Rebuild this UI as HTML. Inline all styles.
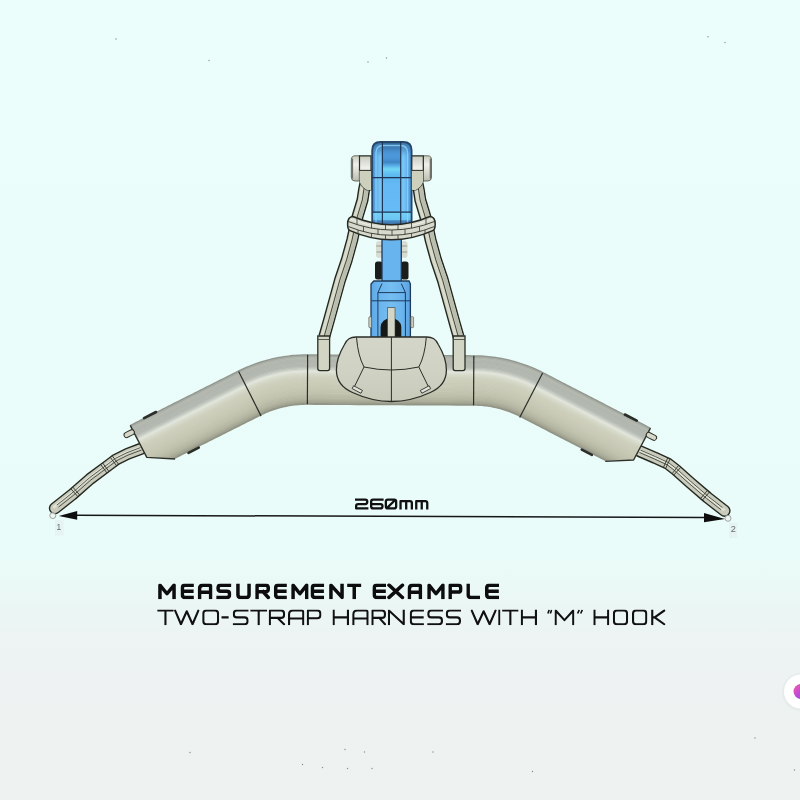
<!DOCTYPE html><html><head><meta charset="utf-8"><style>
html,body{margin:0;padding:0;width:800px;height:800px;overflow:hidden;}
body{background:#eef6f5;}
svg{display:block;filter:blur(0.35px);}
</style></head><body>
<svg width="800" height="800" viewBox="0 0 800 800">
<defs>
<linearGradient id="bg" x1="0" y1="0" x2="0" y2="800" gradientUnits="userSpaceOnUse">
<stop offset="0" stop-color="rgb(236,254,252)"/><stop offset="0.3" stop-color="rgb(235,253,251)"/><stop offset="0.675" stop-color="rgb(233,252,249)"/><stop offset="0.72" stop-color="rgb(234,250,247)"/><stop offset="0.7625" stop-color="rgb(235,246,244)"/><stop offset="0.8125" stop-color="rgb(237,243,242)"/><stop offset="1" stop-color="rgb(238,242,241)"/>
</linearGradient>
<linearGradient id="blueV" x1="0" y1="0" x2="1" y2="0">
<stop offset="0" stop-color="#4a8cc8"/><stop offset="0.1" stop-color="#60aeec"/><stop offset="0.2" stop-color="#78c6f6"/><stop offset="0.5" stop-color="#66bcf6"/><stop offset="0.8" stop-color="#78c6f6"/><stop offset="0.9" stop-color="#60aeec"/><stop offset="1" stop-color="#4a8cc8"/>
</linearGradient>
<linearGradient id="blueTop" x1="0" y1="0" x2="0" y2="1">
<stop offset="0" stop-color="#2c5a88" stop-opacity="0.85"/><stop offset="0.6" stop-color="#3b78b5" stop-opacity="0.45"/><stop offset="1" stop-color="#4a90d0" stop-opacity="0"/>
</linearGradient>
<linearGradient id="blueBot" x1="0" y1="0" x2="0" y2="1">
<stop offset="0" stop-color="#74d2f6" stop-opacity="0.9"/><stop offset="0.5" stop-color="#6cc8f3" stop-opacity="0.8"/><stop offset="0.6" stop-color="#3f78b2" stop-opacity="0.8"/><stop offset="1" stop-color="#34689f" stop-opacity="0.9"/>
</linearGradient>
<linearGradient id="blueB" x1="0" y1="0" x2="1" y2="0">
<stop offset="0" stop-color="#5ea8e6"/><stop offset="0.2" stop-color="#6ab4ee"/><stop offset="0.5" stop-color="#74bef2"/><stop offset="0.8" stop-color="#6ab4ee"/><stop offset="1" stop-color="#5aa2e0"/>
</linearGradient>
<linearGradient id="domeG" x1="0" y1="0" x2="0" y2="1">
<stop offset="0" stop-color="#d3d6c8"/><stop offset="0.5" stop-color="#d0d3c4"/><stop offset="1" stop-color="#c8cbba"/>
</linearGradient>
<linearGradient id="earG" x1="0" y1="0" x2="0" y2="1">
<stop offset="0" stop-color="#c9ccbf"/><stop offset="0.35" stop-color="#eef0ea"/><stop offset="0.6" stop-color="#dcdfd4"/><stop offset="1" stop-color="#b9bcae"/>
</linearGradient>
<linearGradient id="blueBand" x1="0" y1="141" x2="0" y2="226" gradientUnits="userSpaceOnUse">
<stop offset="0" stop-color="#3d74ad"/><stop offset="0.12" stop-color="#4f9ee0"/><stop offset="0.2" stop-color="#4a95d8"/><stop offset="0.25" stop-color="#3f85c5"/><stop offset="0.29" stop-color="#5aaee8"/><stop offset="0.33" stop-color="#72d8f6"/><stop offset="0.38" stop-color="#62c0f2"/><stop offset="0.43" stop-color="#5ab4ee"/><stop offset="0.5" stop-color="#64b8f4"/><stop offset="0.84" stop-color="#66bcf6"/><stop offset="1" stop-color="#66bcf6"/>
</linearGradient>
<linearGradient id="blueBand2" x1="0" y1="0" x2="0" y2="1">
<stop offset="0" stop-color="#4a8fd0"/><stop offset="0.3" stop-color="#5eaeea"/><stop offset="0.5" stop-color="#58a6e6"/><stop offset="1" stop-color="#55a2e2"/>
</linearGradient>
<linearGradient id="btnG" x1="0" y1="0" x2="1" y2="1">
<stop offset="0" stop-color="#f35fa0"/><stop offset="0.5" stop-color="#c04ad8"/><stop offset="1" stop-color="#7a52e6"/>
</linearGradient>
</defs>
<rect width="800" height="800" fill="url(#bg)"/>

<path d="M141.00,448.80 L127.50,453.90 L116.00,459.60 L109.50,464.50 L90.00,479.00 L72.00,494.80 L54.90,508.30" stroke="#262920" stroke-width="12.2" fill="none" stroke-linecap="round" stroke-linejoin="round"/>
<path d="M141.00,448.80 L127.50,453.90 L116.00,459.60 L109.50,464.50 L90.00,479.00 L72.00,494.80 L54.90,508.30" stroke="#c9ccbc" stroke-width="9.4" fill="none" stroke-linecap="round" stroke-linejoin="round"/>
<path d="M141.00,448.80 L127.50,453.90 L116.00,459.60 L109.50,464.50 L90.00,479.00 L72.00,494.80 L54.90,508.30" stroke="#e2e4d8" stroke-width="2.5" fill="none" stroke-linecap="round" stroke-linejoin="round" transform="translate(-0.8,-1.2)"/>
<path d="M141.46,450.02 L128.02,455.09 L116.66,460.72 L110.28,465.54 L90.82,480.01 L72.84,495.80 L58.45,507.15" stroke="#3a3d34" stroke-width="0.85" fill="none" stroke-linejoin="round"/>
<path d="M140.54,447.58 L126.98,452.71 L115.34,458.48 L108.72,463.46 L89.18,477.99 L71.16,493.80 L56.84,505.11" stroke="#3a3d34" stroke-width="0.85" fill="none" stroke-linejoin="round"/>
<path d="M640.00,451.30 L655.00,457.80 L668.00,463.80 L676.00,470.00 L690.00,482.50 L707.50,497.50 L724.50,510.80" stroke="#262920" stroke-width="12.2" fill="none" stroke-linecap="round" stroke-linejoin="round"/>
<path d="M640.00,451.30 L655.00,457.80 L668.00,463.80 L676.00,470.00 L690.00,482.50 L707.50,497.50 L724.50,510.80" stroke="#c9ccbc" stroke-width="9.4" fill="none" stroke-linecap="round" stroke-linejoin="round"/>
<path d="M640.00,451.30 L655.00,457.80 L668.00,463.80 L676.00,470.00 L690.00,482.50 L707.50,497.50 L724.50,510.80" stroke="#e2e4d8" stroke-width="2.5" fill="none" stroke-linecap="round" stroke-linejoin="round" transform="translate(-0.8,-1.2)"/>
<path d="M640.52,450.11 L655.53,456.61 L668.65,462.68 L676.84,469.01 L690.85,481.52 L708.33,496.50 L722.54,507.62" stroke="#3a3d34" stroke-width="0.85" fill="none" stroke-linejoin="round"/>
<path d="M639.48,452.49 L654.47,458.99 L667.35,464.92 L675.16,470.99 L689.15,483.48 L706.67,498.50 L720.94,509.67" stroke="#3a3d34" stroke-width="0.85" fill="none" stroke-linejoin="round"/>
<line x1="112.22" y1="455.81" x2="118.60" y2="464.27" stroke="#30332b" stroke-width="0.9"/>
<line x1="110.23" y1="457.31" x2="116.61" y2="465.78" stroke="#30332b" stroke-width="0.9"/>
<line x1="102.65" y1="462.99" x2="108.98" y2="471.49" stroke="#30332b" stroke-width="0.9"/>
<line x1="100.65" y1="464.48" x2="106.97" y2="472.99" stroke="#30332b" stroke-width="0.9"/>
<line x1="72.76" y1="487.08" x2="79.75" y2="495.05" stroke="#30332b" stroke-width="0.9"/>
<line x1="70.88" y1="488.73" x2="77.87" y2="496.70" stroke="#30332b" stroke-width="0.9"/>
<line x1="663.36" y1="467.50" x2="667.80" y2="457.87" stroke="#30332b" stroke-width="0.9"/>
<line x1="665.63" y1="468.54" x2="670.07" y2="458.92" stroke="#30332b" stroke-width="0.9"/>
<line x1="672.13" y1="473.71" x2="678.62" y2="465.33" stroke="#30332b" stroke-width="0.9"/>
<line x1="673.75" y1="475.09" x2="680.81" y2="467.19" stroke="#30332b" stroke-width="0.9"/>
<line x1="700.56" y1="498.53" x2="707.45" y2="490.48" stroke="#30332b" stroke-width="0.9"/>
<line x1="702.45" y1="500.15" x2="709.35" y2="492.11" stroke="#30332b" stroke-width="0.9"/>
<g id="obj" transform="rotate(0.3 390.6 380)">
<clipPath id="tubeclip"><path clip-rule="evenodd" d="M0,0 H800 V800 H0 Z M146.90,458.40 L146.20,483.25 L183.50,464.20 L176.00,460.00 Z M634.30,458.40 L635.00,483.25 L597.70,464.20 L605.20,460.00 Z"/></clipPath>
<g clip-path="url(#tubeclip)">
<path d="M130.78,426.98 L133.47,425.61 L136.16,424.24 L138.84,422.87 L141.53,421.50 L144.21,420.13 L146.90,418.76 L149.59,417.40 L152.27,416.03 L154.96,414.66 L157.64,413.29 L160.33,411.92 L163.02,410.55 L165.70,409.18 L168.39,407.82 L171.07,406.45 L173.76,405.08 L176.45,403.71 L179.13,402.34 L181.82,400.97 L184.50,399.60 L187.19,398.24 L189.88,396.87 L192.56,395.50 L195.25,394.13 L197.93,392.76 L200.62,391.39 L203.31,390.02 L205.99,388.66 L208.68,387.29 L211.36,385.92 L214.05,384.55 L216.74,383.18 L219.42,381.81 L222.11,380.44 L224.79,379.08 L227.48,377.71 L230.17,376.34 L232.85,374.97 L235.54,373.60 L238.29,372.20 L240.36,371.16 L242.52,370.13 L244.70,369.12 L246.88,368.16 L249.09,367.22 L251.31,366.33 L253.54,365.46 L255.78,364.63 L258.04,363.84 L260.31,363.08 L262.60,362.36 L264.89,361.68 L267.19,361.03 L269.51,360.41 L271.83,359.84 L274.16,359.29 L276.50,358.79 L278.85,358.32 L281.20,357.89 L283.56,357.50 L285.93,357.15 L288.30,356.83 L290.68,356.55 L293.06,356.30 L295.44,356.09 L297.83,355.93 L300.22,355.79 L302.61,355.70 L305.01,355.64 L307.36,355.63 L315.72,355.62 L324.04,355.62 L332.36,355.62 L340.68,355.62 L349.00,355.62 L357.32,355.62 L365.64,355.62 L373.96,355.62 L382.28,355.62 L390.60,355.62 L398.92,355.62 L407.24,355.62 L415.56,355.62 L423.88,355.62 L432.20,355.62 L440.52,355.62 L448.84,355.62 L457.16,355.62 L465.48,355.62 L473.84,355.63 L476.19,355.64 L478.59,355.70 L480.98,355.79 L483.37,355.93 L485.76,356.09 L488.14,356.30 L490.52,356.55 L492.90,356.83 L495.27,357.15 L497.64,357.50 L500.00,357.89 L502.35,358.32 L504.70,358.79 L507.04,359.29 L509.37,359.84 L511.69,360.41 L514.01,361.03 L516.31,361.68 L518.60,362.36 L520.89,363.08 L523.16,363.84 L525.42,364.63 L527.66,365.46 L529.89,366.33 L532.11,367.22 L534.32,368.16 L536.50,369.12 L538.68,370.13 L540.84,371.16 L542.91,372.20 L545.66,373.60 L548.35,374.97 L551.03,376.34 L553.72,377.71 L556.41,379.08 L559.09,380.44 L561.78,381.81 L564.46,383.18 L567.15,384.55 L569.84,385.92 L572.52,387.29 L575.21,388.66 L577.89,390.02 L580.58,391.39 L583.27,392.76 L585.95,394.13 L588.64,395.50 L591.32,396.87 L594.01,398.24 L596.70,399.60 L599.38,400.97 L602.07,402.34 L604.75,403.71 L607.44,405.08 L610.13,406.45 L612.81,407.82 L615.50,409.18 L618.18,410.55 L620.87,411.92 L623.56,413.29 L626.24,414.66 L628.93,416.03 L631.61,417.40 L634.30,418.76 L636.99,420.13 L639.67,421.50 L642.36,422.87 L645.04,424.24 L647.73,425.61 L650.42,426.98" stroke="#91968e" stroke-width="1.85" fill="none"/>
<path d="M131.35,428.09 L134.04,426.72 L136.72,425.35 L139.41,423.98 L142.10,422.62 L144.78,421.25 L147.47,419.88 L150.15,418.51 L152.84,417.14 L155.53,415.77 L158.21,414.40 L160.90,413.04 L163.58,411.67 L166.27,410.30 L168.96,408.93 L171.64,407.56 L174.33,406.19 L177.01,404.82 L179.70,403.46 L182.39,402.09 L185.07,400.72 L187.76,399.35 L190.44,397.98 L193.13,396.61 L195.81,395.24 L198.50,393.88 L201.19,392.51 L203.87,391.14 L206.56,389.77 L209.24,388.40 L211.93,387.03 L214.62,385.66 L217.30,384.30 L219.99,382.93 L222.67,381.56 L225.36,380.19 L228.05,378.82 L230.73,377.45 L233.42,376.08 L236.10,374.72 L238.86,373.31 L240.91,372.29 L243.05,371.26 L245.21,370.26 L247.38,369.30 L249.57,368.38 L251.77,367.49 L253.98,366.63 L256.21,365.81 L258.45,365.02 L260.70,364.27 L262.96,363.56 L265.24,362.88 L267.52,362.23 L269.82,361.62 L272.12,361.05 L274.43,360.51 L276.75,360.01 L279.08,359.55 L281.42,359.13 L283.76,358.74 L286.11,358.38 L288.46,358.07 L290.82,357.79 L293.18,357.55 L295.54,357.34 L297.91,357.17 L300.28,357.04 L302.65,356.95 L305.03,356.89 L307.36,356.88 L315.72,356.88 L324.04,356.88 L332.36,356.88 L340.68,356.88 L349.00,356.88 L357.32,356.88 L365.64,356.88 L373.96,356.88 L382.28,356.88 L390.60,356.88 L398.92,356.88 L407.24,356.88 L415.56,356.88 L423.88,356.88 L432.20,356.88 L440.52,356.88 L448.84,356.88 L457.16,356.88 L465.48,356.88 L473.84,356.88 L476.17,356.89 L478.55,356.95 L480.92,357.04 L483.29,357.17 L485.66,357.34 L488.02,357.55 L490.38,357.79 L492.74,358.07 L495.09,358.38 L497.44,358.74 L499.78,359.13 L502.12,359.55 L504.45,360.01 L506.77,360.51 L509.08,361.05 L511.38,361.62 L513.68,362.23 L515.96,362.88 L518.24,363.56 L520.50,364.27 L522.75,365.02 L524.99,365.81 L527.22,366.63 L529.43,367.49 L531.63,368.38 L533.82,369.30 L535.99,370.26 L538.15,371.26 L540.29,372.29 L542.34,373.31 L545.10,374.72 L547.78,376.08 L550.47,377.45 L553.15,378.82 L555.84,380.19 L558.53,381.56 L561.21,382.93 L563.90,384.30 L566.58,385.66 L569.27,387.03 L571.96,388.40 L574.64,389.77 L577.33,391.14 L580.01,392.51 L582.70,393.88 L585.39,395.24 L588.07,396.61 L590.76,397.98 L593.44,399.35 L596.13,400.72 L598.81,402.09 L601.50,403.46 L604.19,404.82 L606.87,406.19 L609.56,407.56 L612.24,408.93 L614.93,410.30 L617.62,411.67 L620.30,413.04 L622.99,414.40 L625.67,415.77 L628.36,417.14 L631.05,418.51 L633.73,419.88 L636.42,421.25 L639.10,422.62 L641.79,423.98 L644.48,425.35 L647.16,426.72 L649.85,428.09" stroke="#a4a9a1" stroke-width="1.85" fill="none"/>
<path d="M131.92,429.20 L134.60,427.83 L137.29,426.47 L139.98,425.10 L142.66,423.73 L145.35,422.36 L148.03,420.99 L150.72,419.62 L153.41,418.25 L156.09,416.89 L158.78,415.52 L161.46,414.15 L164.15,412.78 L166.84,411.41 L169.52,410.04 L172.21,408.67 L174.89,407.31 L177.58,405.94 L180.27,404.57 L182.95,403.20 L185.64,401.83 L188.32,400.46 L191.01,399.09 L193.70,397.73 L196.38,396.36 L199.07,394.99 L201.75,393.62 L204.44,392.25 L207.13,390.88 L209.81,389.51 L212.50,388.15 L215.18,386.78 L217.87,385.41 L220.56,384.04 L223.24,382.67 L225.93,381.30 L228.61,379.93 L231.30,378.57 L233.99,377.20 L236.67,375.83 L239.42,374.43 L241.46,373.41 L243.59,372.39 L245.72,371.40 L247.88,370.45 L250.05,369.53 L252.23,368.65 L254.42,367.80 L256.63,366.99 L258.85,366.21 L261.09,365.46 L263.33,364.75 L265.59,364.08 L267.85,363.44 L270.13,362.83 L272.41,362.27 L274.71,361.73 L277.01,361.24 L279.32,360.78 L281.63,360.36 L283.95,359.97 L286.28,359.62 L288.62,359.31 L290.95,359.03 L293.30,358.79 L295.64,358.59 L297.99,358.42 L300.34,358.29 L302.69,358.20 L305.05,358.14 L307.37,358.13 L315.72,358.12 L324.04,358.12 L332.36,358.12 L340.68,358.12 L349.00,358.12 L357.32,358.12 L365.64,358.12 L373.96,358.12 L382.28,358.12 L390.60,358.12 L398.92,358.12 L407.24,358.12 L415.56,358.12 L423.88,358.12 L432.20,358.12 L440.52,358.12 L448.84,358.12 L457.16,358.12 L465.48,358.12 L473.83,358.13 L476.15,358.14 L478.51,358.20 L480.86,358.29 L483.21,358.42 L485.56,358.59 L487.90,358.79 L490.25,359.03 L492.58,359.31 L494.92,359.62 L497.25,359.97 L499.57,360.36 L501.88,360.78 L504.19,361.24 L506.49,361.73 L508.79,362.27 L511.07,362.83 L513.35,363.44 L515.61,364.08 L517.87,364.75 L520.11,365.46 L522.35,366.21 L524.57,366.99 L526.78,367.80 L528.97,368.65 L531.15,369.53 L533.32,370.45 L535.48,371.40 L537.61,372.39 L539.74,373.41 L541.78,374.43 L544.53,375.83 L547.21,377.20 L549.90,378.57 L552.59,379.93 L555.27,381.30 L557.96,382.67 L560.64,384.04 L563.33,385.41 L566.02,386.78 L568.70,388.15 L571.39,389.51 L574.07,390.88 L576.76,392.25 L579.45,393.62 L582.13,394.99 L584.82,396.36 L587.50,397.73 L590.19,399.09 L592.88,400.46 L595.56,401.83 L598.25,403.20 L600.93,404.57 L603.62,405.94 L606.31,407.31 L608.99,408.67 L611.68,410.04 L614.36,411.41 L617.05,412.78 L619.74,414.15 L622.42,415.52 L625.11,416.89 L627.79,418.25 L630.48,419.62 L633.17,420.99 L635.85,422.36 L638.54,423.73 L641.22,425.10 L643.91,426.47 L646.60,427.83 L649.28,429.20" stroke="#b1b6ad" stroke-width="1.85" fill="none"/>
<path d="M132.49,430.32 L135.17,428.95 L137.86,427.58 L140.54,426.21 L143.23,424.84 L145.92,423.47 L148.60,422.11 L151.29,420.74 L153.97,419.37 L156.66,418.00 L159.35,416.63 L162.03,415.26 L164.72,413.89 L167.40,412.53 L170.09,411.16 L172.78,409.79 L175.46,408.42 L178.15,407.05 L180.83,405.68 L183.52,404.31 L186.21,402.95 L188.89,401.58 L191.58,400.21 L194.26,398.84 L196.95,397.47 L199.64,396.10 L202.32,394.73 L205.01,393.37 L207.69,392.00 L210.38,390.63 L213.07,389.26 L215.75,387.89 L218.44,386.52 L221.12,385.15 L223.81,383.79 L226.50,382.42 L229.18,381.05 L231.87,379.68 L234.55,378.31 L237.24,376.94 L239.98,375.54 L242.01,374.53 L244.12,373.52 L246.24,372.54 L248.37,371.60 L250.52,370.69 L252.69,369.81 L254.86,368.97 L257.06,368.16 L259.26,367.39 L261.47,366.65 L263.70,365.95 L265.93,365.28 L268.18,364.64 L270.44,364.04 L272.70,363.48 L274.98,362.95 L277.26,362.46 L279.55,362.01 L281.85,361.59 L284.15,361.20 L286.46,360.86 L288.77,360.55 L291.09,360.27 L293.41,360.03 L295.74,359.83 L298.07,359.67 L300.40,359.54 L302.73,359.45 L305.07,359.39 L307.37,359.38 L315.72,359.38 L324.04,359.38 L332.36,359.38 L340.68,359.38 L349.00,359.38 L357.32,359.38 L365.64,359.38 L373.96,359.38 L382.28,359.38 L390.60,359.38 L398.92,359.38 L407.24,359.38 L415.56,359.38 L423.88,359.38 L432.20,359.38 L440.52,359.38 L448.84,359.38 L457.16,359.38 L465.48,359.38 L473.83,359.38 L476.13,359.39 L478.47,359.45 L480.80,359.54 L483.13,359.67 L485.46,359.83 L487.79,360.03 L490.11,360.27 L492.43,360.55 L494.74,360.86 L497.05,361.20 L499.35,361.59 L501.65,362.01 L503.94,362.46 L506.22,362.95 L508.50,363.48 L510.76,364.04 L513.02,364.64 L515.27,365.28 L517.50,365.95 L519.73,366.65 L521.94,367.39 L524.14,368.16 L526.34,368.97 L528.51,369.81 L530.68,370.69 L532.83,371.60 L534.96,372.54 L537.08,373.52 L539.19,374.53 L541.22,375.54 L543.96,376.94 L546.65,378.31 L549.33,379.68 L552.02,381.05 L554.70,382.42 L557.39,383.79 L560.08,385.15 L562.76,386.52 L565.45,387.89 L568.13,389.26 L570.82,390.63 L573.51,392.00 L576.19,393.37 L578.88,394.73 L581.56,396.10 L584.25,397.47 L586.94,398.84 L589.62,400.21 L592.31,401.58 L594.99,402.95 L597.68,404.31 L600.37,405.68 L603.05,407.05 L605.74,408.42 L608.42,409.79 L611.11,411.16 L613.80,412.53 L616.48,413.89 L619.17,415.26 L621.85,416.63 L624.54,418.00 L627.23,419.37 L629.91,420.74 L632.60,422.11 L635.28,423.47 L637.97,424.84 L640.66,426.21 L643.34,427.58 L646.03,428.95 L648.71,430.32" stroke="#b4b9b0" stroke-width="1.85" fill="none"/>
<path d="M133.05,431.43 L135.74,430.06 L138.43,428.69 L141.11,427.33 L143.80,425.96 L146.48,424.59 L149.17,423.22 L151.86,421.85 L154.54,420.48 L157.23,419.11 L159.91,417.75 L162.60,416.38 L165.29,415.01 L167.97,413.64 L170.66,412.27 L173.34,410.90 L176.03,409.53 L178.72,408.17 L181.40,406.80 L184.09,405.43 L186.77,404.06 L189.46,402.69 L192.15,401.32 L194.83,399.95 L197.52,398.59 L200.20,397.22 L202.89,395.85 L205.58,394.48 L208.26,393.11 L210.95,391.74 L213.63,390.37 L216.32,389.01 L219.01,387.64 L221.69,386.27 L224.38,384.90 L227.06,383.53 L229.75,382.16 L232.44,380.79 L235.12,379.43 L237.81,378.06 L240.55,376.66 L242.56,375.65 L244.65,374.65 L246.75,373.68 L248.87,372.75 L251.00,371.84 L253.15,370.97 L255.31,370.14 L257.48,369.34 L259.66,368.57 L261.86,367.84 L264.07,367.14 L266.28,366.48 L268.51,365.85 L270.75,365.26 L273.00,364.70 L275.25,364.17 L277.51,363.69 L279.78,363.24 L282.06,362.82 L284.35,362.44 L286.63,362.10 L288.93,361.79 L291.23,361.52 L293.53,361.28 L295.84,361.08 L298.15,360.92 L300.46,360.79 L302.77,360.70 L305.09,360.64 L307.37,360.63 L315.72,360.62 L324.04,360.62 L332.36,360.62 L340.68,360.62 L349.00,360.62 L357.32,360.62 L365.64,360.62 L373.96,360.62 L382.28,360.62 L390.60,360.62 L398.92,360.62 L407.24,360.62 L415.56,360.62 L423.88,360.62 L432.20,360.62 L440.52,360.62 L448.84,360.62 L457.16,360.62 L465.48,360.62 L473.83,360.63 L476.11,360.64 L478.43,360.70 L480.74,360.79 L483.05,360.92 L485.36,361.08 L487.67,361.28 L489.97,361.52 L492.27,361.79 L494.57,362.10 L496.85,362.44 L499.14,362.82 L501.42,363.24 L503.69,363.69 L505.95,364.17 L508.20,364.70 L510.45,365.26 L512.69,365.85 L514.92,366.48 L517.13,367.14 L519.34,367.84 L521.54,368.57 L523.72,369.34 L525.89,370.14 L528.05,370.97 L530.20,371.84 L532.33,372.75 L534.45,373.68 L536.55,374.65 L538.64,375.65 L540.65,376.66 L543.39,378.06 L546.08,379.43 L548.76,380.79 L551.45,382.16 L554.14,383.53 L556.82,384.90 L559.51,386.27 L562.19,387.64 L564.88,389.01 L567.57,390.37 L570.25,391.74 L572.94,393.11 L575.62,394.48 L578.31,395.85 L581.00,397.22 L583.68,398.59 L586.37,399.95 L589.05,401.32 L591.74,402.69 L594.43,404.06 L597.11,405.43 L599.80,406.80 L602.48,408.17 L605.17,409.53 L607.86,410.90 L610.54,412.27 L613.23,413.64 L615.91,415.01 L618.60,416.38 L621.29,417.75 L623.97,419.11 L626.66,420.48 L629.34,421.85 L632.03,423.22 L634.72,424.59 L637.40,425.96 L640.09,427.33 L642.77,428.69 L645.46,430.06 L648.15,431.43" stroke="#b2b7ae" stroke-width="1.85" fill="none"/>
<path d="M133.62,432.54 L136.31,431.18 L138.99,429.81 L141.68,428.44 L144.37,427.07 L147.05,425.70 L149.74,424.33 L152.42,422.96 L155.11,421.60 L157.80,420.23 L160.48,418.86 L163.17,417.49 L165.85,416.12 L168.54,414.75 L171.23,413.38 L173.91,412.02 L176.60,410.65 L179.28,409.28 L181.97,407.91 L184.66,406.54 L187.34,405.17 L190.03,403.80 L192.71,402.44 L195.40,401.07 L198.08,399.70 L200.77,398.33 L203.46,396.96 L206.14,395.59 L208.83,394.22 L211.51,392.86 L214.20,391.49 L216.89,390.12 L219.57,388.75 L222.26,387.38 L224.94,386.01 L227.63,384.64 L230.32,383.28 L233.00,381.91 L235.69,380.54 L238.37,379.17 L241.11,377.78 L243.11,376.78 L245.18,375.78 L247.27,374.82 L249.37,373.89 L251.48,373.00 L253.61,372.14 L255.75,371.31 L257.90,370.51 L260.07,369.75 L262.24,369.03 L264.43,368.33 L266.63,367.68 L268.84,367.05 L271.06,366.47 L273.29,365.91 L275.52,365.39 L277.77,364.91 L280.02,364.46 L282.28,364.05 L284.54,363.67 L286.81,363.33 L289.09,363.03 L291.37,362.76 L293.65,362.52 L295.94,362.33 L298.22,362.16 L300.52,362.04 L302.81,361.95 L305.10,361.89 L307.37,361.88 L315.72,361.88 L324.04,361.88 L332.36,361.88 L340.68,361.88 L349.00,361.88 L357.32,361.88 L365.64,361.88 L373.96,361.88 L382.28,361.88 L390.60,361.88 L398.92,361.88 L407.24,361.88 L415.56,361.88 L423.88,361.88 L432.20,361.88 L440.52,361.88 L448.84,361.88 L457.16,361.88 L465.48,361.88 L473.83,361.88 L476.10,361.89 L478.39,361.95 L480.68,362.04 L482.98,362.16 L485.26,362.33 L487.55,362.52 L489.83,362.76 L492.11,363.03 L494.39,363.33 L496.66,363.67 L498.92,364.05 L501.18,364.46 L503.43,364.91 L505.68,365.39 L507.91,365.91 L510.14,366.47 L512.36,367.05 L514.57,367.68 L516.77,368.33 L518.96,369.03 L521.13,369.75 L523.30,370.51 L525.45,371.31 L527.59,372.14 L529.72,373.00 L531.83,373.89 L533.93,374.82 L536.02,375.78 L538.09,376.78 L540.09,377.78 L542.83,379.17 L545.51,380.54 L548.20,381.91 L550.88,383.28 L553.57,384.64 L556.26,386.01 L558.94,387.38 L561.63,388.75 L564.31,390.12 L567.00,391.49 L569.69,392.86 L572.37,394.22 L575.06,395.59 L577.74,396.96 L580.43,398.33 L583.12,399.70 L585.80,401.07 L588.49,402.44 L591.17,403.80 L593.86,405.17 L596.54,406.54 L599.23,407.91 L601.92,409.28 L604.60,410.65 L607.29,412.02 L609.97,413.38 L612.66,414.75 L615.35,416.12 L618.03,417.49 L620.72,418.86 L623.40,420.23 L626.09,421.60 L628.78,422.96 L631.46,424.33 L634.15,425.70 L636.83,427.07 L639.52,428.44 L642.21,429.81 L644.89,431.18 L647.58,432.54" stroke="#b1b6ae" stroke-width="1.85" fill="none"/>
<path d="M134.19,433.66 L136.87,432.29 L139.56,430.92 L142.25,429.55 L144.93,428.18 L147.62,426.82 L150.30,425.45 L152.99,424.08 L155.68,422.71 L158.36,421.34 L161.05,419.97 L163.73,418.60 L166.42,417.24 L169.11,415.87 L171.79,414.50 L174.48,413.13 L177.16,411.76 L179.85,410.39 L182.54,409.02 L185.22,407.66 L187.91,406.29 L190.59,404.92 L193.28,403.55 L195.97,402.18 L198.65,400.81 L201.34,399.44 L204.02,398.08 L206.71,396.71 L209.40,395.34 L212.08,393.97 L214.77,392.60 L217.45,391.23 L220.14,389.86 L222.83,388.50 L225.51,387.13 L228.20,385.76 L230.88,384.39 L233.57,383.02 L236.26,381.65 L238.94,380.28 L241.68,378.89 L243.66,377.90 L245.72,376.91 L247.78,375.96 L249.86,375.04 L251.96,374.15 L254.07,373.30 L256.19,372.48 L258.33,371.69 L260.47,370.94 L262.63,370.22 L264.80,369.53 L266.98,368.88 L269.17,368.26 L271.37,367.68 L273.58,367.13 L275.80,366.61 L278.02,366.14 L280.25,365.69 L282.49,365.28 L284.74,364.91 L286.99,364.57 L289.24,364.27 L291.50,364.00 L293.77,363.77 L296.03,363.57 L298.30,363.41 L300.58,363.29 L302.85,363.20 L305.12,363.14 L307.37,363.13 L315.72,363.12 L324.04,363.12 L332.36,363.12 L340.68,363.12 L349.00,363.12 L357.32,363.12 L365.64,363.12 L373.96,363.12 L382.28,363.12 L390.60,363.12 L398.92,363.12 L407.24,363.12 L415.56,363.12 L423.88,363.12 L432.20,363.12 L440.52,363.12 L448.84,363.12 L457.16,363.12 L465.48,363.12 L473.83,363.13 L476.08,363.14 L478.35,363.20 L480.62,363.29 L482.90,363.41 L485.17,363.57 L487.43,363.77 L489.70,364.00 L491.96,364.27 L494.21,364.57 L496.46,364.91 L498.71,365.28 L500.95,365.69 L503.18,366.14 L505.40,366.61 L507.62,367.13 L509.83,367.68 L512.03,368.26 L514.22,368.88 L516.40,369.53 L518.57,370.22 L520.73,370.94 L522.87,371.69 L525.01,372.48 L527.13,373.30 L529.24,374.15 L531.34,375.04 L533.42,375.96 L535.48,376.91 L537.54,377.90 L539.52,378.89 L542.26,380.28 L544.94,381.65 L547.63,383.02 L550.32,384.39 L553.00,385.76 L555.69,387.13 L558.37,388.50 L561.06,389.86 L563.75,391.23 L566.43,392.60 L569.12,393.97 L571.80,395.34 L574.49,396.71 L577.18,398.08 L579.86,399.44 L582.55,400.81 L585.23,402.18 L587.92,403.55 L590.61,404.92 L593.29,406.29 L595.98,407.66 L598.66,409.02 L601.35,410.39 L604.04,411.76 L606.72,413.13 L609.41,414.50 L612.09,415.87 L614.78,417.24 L617.47,418.60 L620.15,419.97 L622.84,421.34 L625.52,422.71 L628.21,424.08 L630.90,425.45 L633.58,426.82 L636.27,428.18 L638.95,429.55 L641.64,430.92 L644.33,432.29 L647.01,433.66" stroke="#b2b7af" stroke-width="1.85" fill="none"/>
<path d="M134.76,434.77 L137.44,433.40 L140.13,432.04 L142.81,430.67 L145.50,429.30 L148.19,427.93 L150.87,426.56 L153.56,425.19 L156.24,423.82 L158.93,422.46 L161.62,421.09 L164.30,419.72 L166.99,418.35 L169.67,416.98 L172.36,415.61 L175.05,414.24 L177.73,412.87 L180.42,411.51 L183.10,410.14 L185.79,408.77 L188.48,407.40 L191.16,406.03 L193.85,404.66 L196.53,403.29 L199.22,401.93 L201.91,400.56 L204.59,399.19 L207.28,397.82 L209.96,396.45 L212.65,395.08 L215.34,393.71 L218.02,392.35 L220.71,390.98 L223.39,389.61 L226.08,388.24 L228.77,386.87 L231.45,385.50 L234.14,384.13 L236.82,382.77 L239.51,381.40 L242.24,380.01 L244.21,379.02 L246.25,378.04 L248.30,377.10 L250.36,376.19 L252.44,375.31 L254.53,374.46 L256.63,373.65 L258.75,372.87 L260.88,372.12 L263.02,371.40 L265.17,370.72 L267.33,370.08 L269.50,369.47 L271.68,368.89 L273.87,368.34 L276.07,367.83 L278.27,367.36 L280.49,366.92 L282.71,366.51 L284.93,366.14 L287.16,365.81 L289.40,365.51 L291.64,365.24 L293.88,365.01 L296.13,364.82 L298.38,364.66 L300.63,364.53 L302.89,364.45 L305.14,364.39 L307.38,364.38 L315.72,364.38 L324.04,364.38 L332.36,364.38 L340.68,364.38 L349.00,364.38 L357.32,364.38 L365.64,364.38 L373.96,364.38 L382.28,364.38 L390.60,364.38 L398.92,364.38 L407.24,364.38 L415.56,364.38 L423.88,364.38 L432.20,364.38 L440.52,364.38 L448.84,364.38 L457.16,364.38 L465.48,364.38 L473.82,364.38 L476.06,364.39 L478.31,364.45 L480.57,364.53 L482.82,364.66 L485.07,364.82 L487.32,365.01 L489.56,365.24 L491.80,365.51 L494.04,365.81 L496.27,366.14 L498.49,366.51 L500.71,366.92 L502.93,367.36 L505.13,367.83 L507.33,368.34 L509.52,368.89 L511.70,369.47 L513.87,370.08 L516.03,370.72 L518.18,371.40 L520.32,372.12 L522.45,372.87 L524.57,373.65 L526.67,374.46 L528.76,375.31 L530.84,376.19 L532.90,377.10 L534.95,378.04 L536.99,379.02 L538.96,380.01 L541.69,381.40 L544.38,382.77 L547.06,384.13 L549.75,385.50 L552.43,386.87 L555.12,388.24 L557.81,389.61 L560.49,390.98 L563.18,392.35 L565.86,393.71 L568.55,395.08 L571.24,396.45 L573.92,397.82 L576.61,399.19 L579.29,400.56 L581.98,401.93 L584.67,403.29 L587.35,404.66 L590.04,406.03 L592.72,407.40 L595.41,408.77 L598.10,410.14 L600.78,411.51 L603.47,412.87 L606.15,414.24 L608.84,415.61 L611.53,416.98 L614.21,418.35 L616.90,419.72 L619.58,421.09 L622.27,422.46 L624.96,423.82 L627.64,425.19 L630.33,426.56 L633.01,427.93 L635.70,429.30 L638.39,430.67 L641.07,432.04 L643.76,433.40 L646.44,434.77" stroke="#b3b8b0" stroke-width="1.85" fill="none"/>
<path d="M135.32,435.89 L138.01,434.52 L140.70,433.15 L143.38,431.78 L146.07,430.41 L148.75,429.04 L151.44,427.67 L154.13,426.31 L156.81,424.94 L159.50,423.57 L162.18,422.20 L164.87,420.83 L167.56,419.46 L170.24,418.09 L172.93,416.73 L175.61,415.36 L178.30,413.99 L180.99,412.62 L183.67,411.25 L186.36,409.88 L189.04,408.51 L191.73,407.15 L194.42,405.78 L197.10,404.41 L199.79,403.04 L202.47,401.67 L205.16,400.30 L207.85,398.93 L210.53,397.57 L213.22,396.20 L215.90,394.83 L218.59,393.46 L221.28,392.09 L223.96,390.72 L226.65,389.35 L229.33,387.99 L232.02,386.62 L234.71,385.25 L237.39,383.88 L240.08,382.51 L242.80,381.12 L244.76,380.14 L246.78,379.18 L248.81,378.24 L250.86,377.33 L252.92,376.46 L254.99,375.62 L257.07,374.82 L259.17,374.04 L261.28,373.30 L263.40,372.59 L265.54,371.92 L267.68,371.28 L269.83,370.67 L271.99,370.10 L274.16,369.56 L276.34,369.05 L278.53,368.58 L280.72,368.15 L282.92,367.75 L285.13,367.38 L287.34,367.05 L289.56,366.75 L291.78,366.48 L294.00,366.26 L296.23,366.06 L298.46,365.91 L300.69,365.78 L302.93,365.70 L305.16,365.64 L307.38,365.63 L315.72,365.62 L324.04,365.62 L332.36,365.62 L340.68,365.62 L349.00,365.62 L357.32,365.62 L365.64,365.62 L373.96,365.62 L382.28,365.62 L390.60,365.62 L398.92,365.62 L407.24,365.62 L415.56,365.62 L423.88,365.62 L432.20,365.62 L440.52,365.62 L448.84,365.62 L457.16,365.62 L465.48,365.62 L473.82,365.63 L476.04,365.64 L478.27,365.70 L480.51,365.78 L482.74,365.91 L484.97,366.06 L487.20,366.26 L489.42,366.48 L491.64,366.75 L493.86,367.05 L496.07,367.38 L498.28,367.75 L500.48,368.15 L502.67,368.58 L504.86,369.05 L507.04,369.56 L509.21,370.10 L511.37,370.67 L513.52,371.28 L515.66,371.92 L517.80,372.59 L519.92,373.30 L522.03,374.04 L524.13,374.82 L526.21,375.62 L528.28,376.46 L530.34,377.33 L532.39,378.24 L534.42,379.18 L536.44,380.14 L538.40,381.12 L541.12,382.51 L543.81,383.88 L546.49,385.25 L549.18,386.62 L551.87,387.99 L554.55,389.35 L557.24,390.72 L559.92,392.09 L562.61,393.46 L565.30,394.83 L567.98,396.20 L570.67,397.57 L573.35,398.93 L576.04,400.30 L578.73,401.67 L581.41,403.04 L584.10,404.41 L586.78,405.78 L589.47,407.15 L592.16,408.51 L594.84,409.88 L597.53,411.25 L600.21,412.62 L602.90,413.99 L605.59,415.36 L608.27,416.73 L610.96,418.09 L613.64,419.46 L616.33,420.83 L619.02,422.20 L621.70,423.57 L624.39,424.94 L627.07,426.31 L629.76,427.67 L632.45,429.04 L635.13,430.41 L637.82,431.78 L640.50,433.15 L643.19,434.52 L645.88,435.89" stroke="#b3b8b0" stroke-width="1.85" fill="none"/>
<path d="M135.89,437.00 L138.58,435.63 L141.26,434.26 L143.95,432.89 L146.64,431.53 L149.32,430.16 L152.01,428.79 L154.69,427.42 L157.38,426.05 L160.07,424.68 L162.75,423.31 L165.44,421.95 L168.12,420.58 L170.81,419.21 L173.50,417.84 L176.18,416.47 L178.87,415.10 L181.55,413.73 L184.24,412.37 L186.93,411.00 L189.61,409.63 L192.30,408.26 L194.98,406.89 L197.67,405.52 L200.35,404.15 L203.04,402.79 L205.73,401.42 L208.41,400.05 L211.10,398.68 L213.78,397.31 L216.47,395.94 L219.16,394.57 L221.84,393.21 L224.53,391.84 L227.21,390.47 L229.90,389.10 L232.59,387.73 L235.27,386.36 L237.96,384.99 L240.64,383.63 L243.37,382.24 L245.31,381.27 L247.31,380.31 L249.33,379.38 L251.35,378.48 L253.39,377.62 L255.45,376.79 L257.52,375.99 L259.60,375.22 L261.69,374.48 L263.79,373.78 L265.90,373.11 L268.03,372.48 L270.16,371.88 L272.30,371.31 L274.46,370.77 L276.61,370.27 L278.78,369.81 L280.96,369.37 L283.14,368.98 L285.32,368.61 L287.52,368.28 L289.71,367.99 L291.91,367.73 L294.12,367.50 L296.33,367.31 L298.54,367.15 L300.75,367.03 L302.97,366.94 L305.18,366.89 L307.38,366.88 L315.72,366.88 L324.04,366.88 L332.36,366.88 L340.68,366.88 L349.00,366.88 L357.32,366.88 L365.64,366.88 L373.96,366.88 L382.28,366.88 L390.60,366.88 L398.92,366.88 L407.24,366.88 L415.56,366.88 L423.88,366.88 L432.20,366.88 L440.52,366.88 L448.84,366.88 L457.16,366.88 L465.48,366.88 L473.82,366.88 L476.02,366.89 L478.23,366.94 L480.45,367.03 L482.66,367.15 L484.87,367.31 L487.08,367.50 L489.29,367.73 L491.49,367.99 L493.68,368.28 L495.88,368.61 L498.06,368.98 L500.24,369.37 L502.42,369.81 L504.59,370.27 L506.74,370.77 L508.90,371.31 L511.04,371.88 L513.17,372.48 L515.30,373.11 L517.41,373.78 L519.51,374.48 L521.60,375.22 L523.68,375.99 L525.75,376.79 L527.81,377.62 L529.85,378.48 L531.87,379.38 L533.89,380.31 L535.89,381.27 L537.83,382.24 L540.56,383.63 L543.24,384.99 L545.93,386.36 L548.61,387.73 L551.30,389.10 L553.99,390.47 L556.67,391.84 L559.36,393.21 L562.04,394.57 L564.73,395.94 L567.42,397.31 L570.10,398.68 L572.79,400.05 L575.47,401.42 L578.16,402.79 L580.85,404.15 L583.53,405.52 L586.22,406.89 L588.90,408.26 L591.59,409.63 L594.27,411.00 L596.96,412.37 L599.65,413.73 L602.33,415.10 L605.02,416.47 L607.70,417.84 L610.39,419.21 L613.08,420.58 L615.76,421.95 L618.45,423.31 L621.13,424.68 L623.82,426.05 L626.51,427.42 L629.19,428.79 L631.88,430.16 L634.56,431.53 L637.25,432.89 L639.94,434.26 L642.62,435.63 L645.31,437.00" stroke="#b4b9b1" stroke-width="1.85" fill="none"/>
<path d="M136.46,438.11 L139.14,436.74 L141.83,435.38 L144.52,434.01 L147.20,432.64 L149.89,431.27 L152.57,429.90 L155.26,428.53 L157.95,427.16 L160.63,425.80 L163.32,424.43 L166.00,423.06 L168.69,421.69 L171.38,420.32 L174.06,418.95 L176.75,417.58 L179.43,416.22 L182.12,414.85 L184.81,413.48 L187.49,412.11 L190.18,410.74 L192.86,409.37 L195.55,408.00 L198.24,406.64 L200.92,405.27 L203.61,403.90 L206.29,402.53 L208.98,401.16 L211.67,399.79 L214.35,398.42 L217.04,397.06 L219.72,395.69 L222.41,394.32 L225.10,392.95 L227.78,391.58 L230.47,390.21 L233.15,388.84 L235.84,387.48 L238.53,386.11 L241.21,384.74 L243.93,383.35 L245.86,382.39 L247.84,381.44 L249.84,380.52 L251.85,379.63 L253.87,378.77 L255.91,377.95 L257.96,377.15 L260.02,376.39 L262.09,375.67 L264.18,374.97 L266.27,374.31 L268.38,373.68 L270.49,373.08 L272.61,372.52 L274.75,371.99 L276.89,371.49 L279.04,371.03 L281.19,370.60 L283.35,370.21 L285.52,369.85 L287.69,369.52 L289.87,369.23 L292.05,368.97 L294.24,368.75 L296.43,368.56 L298.62,368.40 L300.81,368.28 L303.01,368.19 L305.20,368.14 L307.38,368.13 L315.72,368.12 L324.04,368.12 L332.36,368.12 L340.68,368.12 L349.00,368.12 L357.32,368.12 L365.64,368.12 L373.96,368.12 L382.28,368.12 L390.60,368.12 L398.92,368.12 L407.24,368.12 L415.56,368.12 L423.88,368.12 L432.20,368.12 L440.52,368.12 L448.84,368.12 L457.16,368.12 L465.48,368.12 L473.82,368.13 L476.00,368.14 L478.19,368.19 L480.39,368.28 L482.58,368.40 L484.77,368.56 L486.96,368.75 L489.15,368.97 L491.33,369.23 L493.51,369.52 L495.68,369.85 L497.85,370.21 L500.01,370.60 L502.16,371.03 L504.31,371.49 L506.45,371.99 L508.59,372.52 L510.71,373.08 L512.82,373.68 L514.93,374.31 L517.02,374.97 L519.11,375.67 L521.18,376.39 L523.24,377.15 L525.29,377.95 L527.33,378.77 L529.35,379.63 L531.36,380.52 L533.36,381.44 L535.34,382.39 L537.27,383.35 L539.99,384.74 L542.67,386.11 L545.36,387.48 L548.05,388.84 L550.73,390.21 L553.42,391.58 L556.10,392.95 L558.79,394.32 L561.48,395.69 L564.16,397.06 L566.85,398.42 L569.53,399.79 L572.22,401.16 L574.91,402.53 L577.59,403.90 L580.28,405.27 L582.96,406.64 L585.65,408.00 L588.34,409.37 L591.02,410.74 L593.71,412.11 L596.39,413.48 L599.08,414.85 L601.77,416.22 L604.45,417.58 L607.14,418.95 L609.82,420.32 L612.51,421.69 L615.20,423.06 L617.88,424.43 L620.57,425.80 L623.25,427.16 L625.94,428.53 L628.63,429.90 L631.31,431.27 L634.00,432.64 L636.68,434.01 L639.37,435.38 L642.06,436.74 L644.74,438.11" stroke="#bdc2ba" stroke-width="1.85" fill="none"/>
<path d="M137.03,439.23 L139.71,437.86 L142.40,436.49 L145.08,435.12 L147.77,433.75 L150.46,432.38 L153.14,431.02 L155.83,429.65 L158.51,428.28 L161.20,426.91 L163.89,425.54 L166.57,424.17 L169.26,422.80 L171.94,421.44 L174.63,420.07 L177.32,418.70 L180.00,417.33 L182.69,415.96 L185.37,414.59 L188.06,413.22 L190.75,411.86 L193.43,410.49 L196.12,409.12 L198.80,407.75 L201.49,406.38 L204.18,405.01 L206.86,403.64 L209.55,402.28 L212.23,400.91 L214.92,399.54 L217.61,398.17 L220.29,396.80 L222.98,395.43 L225.66,394.06 L228.35,392.70 L231.04,391.33 L233.72,389.96 L236.41,388.59 L239.09,387.22 L241.78,385.85 L244.50,384.47 L246.41,383.51 L248.38,382.57 L250.35,381.66 L252.35,380.78 L254.35,379.93 L256.37,379.11 L258.40,378.32 L260.44,377.57 L262.50,376.85 L264.56,376.16 L266.64,375.50 L268.72,374.88 L270.82,374.29 L272.93,373.73 L275.04,373.21 L277.16,372.71 L279.29,372.26 L281.42,371.83 L283.57,371.44 L285.71,371.08 L287.87,370.76 L290.03,370.47 L292.19,370.21 L294.35,369.99 L296.52,369.80 L298.70,369.65 L300.87,369.53 L303.05,369.44 L305.22,369.39 L307.38,369.38 L315.72,369.38 L324.04,369.38 L332.36,369.38 L340.68,369.38 L349.00,369.38 L357.32,369.38 L365.64,369.38 L373.96,369.38 L382.28,369.38 L390.60,369.38 L398.92,369.38 L407.24,369.38 L415.56,369.38 L423.88,369.38 L432.20,369.38 L440.52,369.38 L448.84,369.38 L457.16,369.38 L465.48,369.38 L473.82,369.38 L475.98,369.39 L478.15,369.44 L480.33,369.53 L482.50,369.65 L484.68,369.80 L486.85,369.99 L489.01,370.21 L491.17,370.47 L493.33,370.76 L495.49,371.08 L497.63,371.44 L499.78,371.83 L501.91,372.26 L504.04,372.71 L506.16,373.21 L508.27,373.73 L510.38,374.29 L512.48,374.88 L514.56,375.50 L516.64,376.16 L518.70,376.85 L520.76,377.57 L522.80,378.32 L524.83,379.11 L526.85,379.93 L528.85,380.78 L530.85,381.66 L532.82,382.57 L534.79,383.51 L536.70,384.47 L539.42,385.85 L542.11,387.22 L544.79,388.59 L547.48,389.96 L550.16,391.33 L552.85,392.70 L555.54,394.06 L558.22,395.43 L560.91,396.80 L563.59,398.17 L566.28,399.54 L568.97,400.91 L571.65,402.28 L574.34,403.64 L577.02,405.01 L579.71,406.38 L582.40,407.75 L585.08,409.12 L587.77,410.49 L590.45,411.86 L593.14,413.22 L595.83,414.59 L598.51,415.96 L601.20,417.33 L603.88,418.70 L606.57,420.07 L609.26,421.44 L611.94,422.80 L614.63,424.17 L617.31,425.54 L620.00,426.91 L622.69,428.28 L625.37,429.65 L628.06,431.02 L630.74,432.38 L633.43,433.75 L636.12,435.12 L638.80,436.49 L641.49,437.86 L644.17,439.23" stroke="#c7ccc3" stroke-width="1.85" fill="none"/>
<path d="M137.59,440.34 L140.28,438.97 L142.97,437.60 L145.65,436.24 L148.34,434.87 L151.02,433.50 L153.71,432.13 L156.40,430.76 L159.08,429.39 L161.77,428.02 L164.45,426.66 L167.14,425.29 L169.83,423.92 L172.51,422.55 L175.20,421.18 L177.88,419.81 L180.57,418.44 L183.26,417.08 L185.94,415.71 L188.63,414.34 L191.31,412.97 L194.00,411.60 L196.69,410.23 L199.37,408.86 L202.06,407.50 L204.74,406.13 L207.43,404.76 L210.12,403.39 L212.80,402.02 L215.49,400.65 L218.17,399.28 L220.86,397.92 L223.55,396.55 L226.23,395.18 L228.92,393.81 L231.60,392.44 L234.29,391.07 L236.98,389.70 L239.66,388.34 L242.35,386.97 L245.06,385.58 L246.96,384.63 L248.91,383.70 L250.87,382.80 L252.84,381.92 L254.83,381.08 L256.83,380.27 L258.84,379.49 L260.87,378.75 L262.90,378.03 L264.95,377.35 L267.01,376.70 L269.07,376.08 L271.15,375.49 L273.24,374.94 L275.33,374.42 L277.43,373.93 L279.54,373.48 L281.66,373.06 L283.78,372.67 L285.91,372.32 L288.04,372.00 L290.18,371.71 L292.33,371.45 L294.47,371.23 L296.62,371.05 L298.77,370.90 L300.93,370.78 L303.08,370.69 L305.24,370.64 L307.39,370.63 L315.72,370.62 L324.04,370.62 L332.36,370.62 L340.68,370.62 L349.00,370.62 L357.32,370.62 L365.64,370.62 L373.96,370.62 L382.28,370.62 L390.60,370.62 L398.92,370.62 L407.24,370.62 L415.56,370.62 L423.88,370.62 L432.20,370.62 L440.52,370.62 L448.84,370.62 L457.16,370.62 L465.48,370.62 L473.81,370.63 L475.96,370.64 L478.12,370.69 L480.27,370.78 L482.43,370.90 L484.58,371.05 L486.73,371.23 L488.87,371.45 L491.02,371.71 L493.16,372.00 L495.29,372.32 L497.42,372.67 L499.54,373.06 L501.66,373.48 L503.77,373.93 L505.87,374.42 L507.96,374.94 L510.05,375.49 L512.13,376.08 L514.19,376.70 L516.25,377.35 L518.30,378.03 L520.33,378.75 L522.36,379.49 L524.37,380.27 L526.37,381.08 L528.36,381.92 L530.33,382.80 L532.29,383.70 L534.24,384.63 L536.14,385.58 L538.85,386.97 L541.54,388.34 L544.22,389.70 L546.91,391.07 L549.60,392.44 L552.28,393.81 L554.97,395.18 L557.65,396.55 L560.34,397.92 L563.03,399.28 L565.71,400.65 L568.40,402.02 L571.08,403.39 L573.77,404.76 L576.46,406.13 L579.14,407.50 L581.83,408.86 L584.51,410.23 L587.20,411.60 L589.89,412.97 L592.57,414.34 L595.26,415.71 L597.94,417.08 L600.63,418.44 L603.32,419.81 L606.00,421.18 L608.69,422.55 L611.37,423.92 L614.06,425.29 L616.75,426.66 L619.43,428.02 L622.12,429.39 L624.80,430.76 L627.49,432.13 L630.18,433.50 L632.86,434.87 L635.55,436.24 L638.23,437.60 L640.92,438.97 L643.61,440.34" stroke="#d4d8cf" stroke-width="1.85" fill="none"/>
<path d="M138.16,441.45 L140.85,440.09 L143.53,438.72 L146.22,437.35 L148.91,435.98 L151.59,434.61 L154.28,433.24 L156.96,431.87 L159.65,430.51 L162.34,429.14 L165.02,427.77 L167.71,426.40 L170.39,425.03 L173.08,423.66 L175.77,422.29 L178.45,420.93 L181.14,419.56 L183.82,418.19 L186.51,416.82 L189.19,415.45 L191.88,414.08 L194.57,412.71 L197.25,411.35 L199.94,409.98 L202.62,408.61 L205.31,407.24 L208.00,405.87 L210.68,404.50 L213.37,403.13 L216.05,401.77 L218.74,400.40 L221.43,399.03 L224.11,397.66 L226.80,396.29 L229.48,394.92 L232.17,393.55 L234.86,392.19 L237.54,390.82 L240.23,389.45 L242.91,388.08 L245.62,386.70 L247.51,385.76 L249.44,384.83 L251.38,383.94 L253.34,383.07 L255.31,382.24 L257.29,381.43 L259.28,380.66 L261.29,379.92 L263.31,379.21 L265.34,378.54 L267.37,377.89 L269.42,377.28 L271.48,376.70 L273.55,376.15 L275.62,375.64 L277.71,375.15 L279.80,374.70 L281.89,374.29 L284.00,373.90 L286.11,373.55 L288.22,373.23 L290.34,372.95 L292.46,372.70 L294.59,372.48 L296.72,372.29 L298.85,372.14 L300.99,372.03 L303.12,371.94 L305.26,371.89 L307.39,371.88 L315.72,371.88 L324.04,371.88 L332.36,371.88 L340.68,371.88 L349.00,371.88 L357.32,371.88 L365.64,371.88 L373.96,371.88 L382.28,371.88 L390.60,371.88 L398.92,371.88 L407.24,371.88 L415.56,371.88 L423.88,371.88 L432.20,371.88 L440.52,371.88 L448.84,371.88 L457.16,371.88 L465.48,371.88 L473.81,371.88 L475.94,371.89 L478.08,371.94 L480.21,372.03 L482.35,372.14 L484.48,372.29 L486.61,372.48 L488.74,372.70 L490.86,372.95 L492.98,373.23 L495.09,373.55 L497.20,373.90 L499.31,374.29 L501.40,374.70 L503.49,375.15 L505.58,375.64 L507.65,376.15 L509.72,376.70 L511.78,377.28 L513.83,377.89 L515.86,378.54 L517.89,379.21 L519.91,379.92 L521.92,380.66 L523.91,381.43 L525.89,382.24 L527.86,383.07 L529.82,383.94 L531.76,384.83 L533.69,385.76 L535.58,386.70 L538.29,388.08 L540.97,389.45 L543.66,390.82 L546.34,392.19 L549.03,393.55 L551.72,394.92 L554.40,396.29 L557.09,397.66 L559.77,399.03 L562.46,400.40 L565.15,401.77 L567.83,403.13 L570.52,404.50 L573.20,405.87 L575.89,407.24 L578.58,408.61 L581.26,409.98 L583.95,411.35 L586.63,412.71 L589.32,414.08 L592.01,415.45 L594.69,416.82 L597.38,418.19 L600.06,419.56 L602.75,420.93 L605.43,422.29 L608.12,423.66 L610.81,425.03 L613.49,426.40 L616.18,427.77 L618.86,429.14 L621.55,430.51 L624.24,431.87 L626.92,433.24 L629.61,434.61 L632.29,435.98 L634.98,437.35 L637.67,438.72 L640.35,440.09 L643.04,441.45" stroke="#e1e5db" stroke-width="1.85" fill="none"/>
<path d="M138.73,442.57 L141.41,441.20 L144.10,439.83 L146.79,438.46 L149.47,437.09 L152.16,435.73 L154.84,434.36 L157.53,432.99 L160.22,431.62 L162.90,430.25 L165.59,428.88 L168.27,427.51 L170.96,426.15 L173.65,424.78 L176.33,423.41 L179.02,422.04 L181.70,420.67 L184.39,419.30 L187.08,417.93 L189.76,416.57 L192.45,415.20 L195.13,413.83 L197.82,412.46 L200.51,411.09 L203.19,409.72 L205.88,408.35 L208.56,406.99 L211.25,405.62 L213.94,404.25 L216.62,402.88 L219.31,401.51 L221.99,400.14 L224.68,398.77 L227.37,397.41 L230.05,396.04 L232.74,394.67 L235.42,393.30 L238.11,391.93 L240.80,390.56 L243.48,389.19 L246.19,387.82 L248.06,386.88 L249.97,385.96 L251.90,385.07 L253.83,384.22 L255.79,383.39 L257.75,382.60 L259.73,381.83 L261.71,381.10 L263.71,380.40 L265.72,379.73 L267.74,379.09 L269.77,378.48 L271.81,377.91 L273.86,377.36 L275.91,376.85 L277.98,376.37 L280.05,375.93 L282.13,375.51 L284.21,375.13 L286.30,374.79 L288.40,374.47 L290.50,374.19 L292.60,373.94 L294.71,373.72 L296.82,373.54 L298.93,373.39 L301.05,373.27 L303.16,373.19 L305.28,373.14 L307.39,373.13 L315.72,373.12 L324.04,373.12 L332.36,373.12 L340.68,373.12 L349.00,373.12 L357.32,373.12 L365.64,373.12 L373.96,373.12 L382.28,373.12 L390.60,373.12 L398.92,373.12 L407.24,373.12 L415.56,373.12 L423.88,373.12 L432.20,373.12 L440.52,373.12 L448.84,373.12 L457.16,373.12 L465.48,373.12 L473.81,373.13 L475.92,373.14 L478.04,373.19 L480.15,373.27 L482.27,373.39 L484.38,373.54 L486.49,373.72 L488.60,373.94 L490.70,374.19 L492.80,374.47 L494.90,374.79 L496.99,375.13 L499.07,375.51 L501.15,375.93 L503.22,376.37 L505.29,376.85 L507.34,377.36 L509.39,377.91 L511.43,378.48 L513.46,379.09 L515.48,379.73 L517.49,380.40 L519.49,381.10 L521.47,381.83 L523.45,382.60 L525.41,383.39 L527.37,384.22 L529.30,385.07 L531.23,385.96 L533.14,386.88 L535.01,387.82 L537.72,389.19 L540.40,390.56 L543.09,391.93 L545.78,393.30 L548.46,394.67 L551.15,396.04 L553.83,397.41 L556.52,398.77 L559.21,400.14 L561.89,401.51 L564.58,402.88 L567.26,404.25 L569.95,405.62 L572.64,406.99 L575.32,408.35 L578.01,409.72 L580.69,411.09 L583.38,412.46 L586.07,413.83 L588.75,415.20 L591.44,416.57 L594.12,417.93 L596.81,419.30 L599.50,420.67 L602.18,422.04 L604.87,423.41 L607.55,424.78 L610.24,426.15 L612.93,427.51 L615.61,428.88 L618.30,430.25 L620.98,431.62 L623.67,432.99 L626.36,434.36 L629.04,435.73 L631.73,437.09 L634.41,438.46 L637.10,439.83 L639.79,441.20 L642.47,442.57" stroke="#dee1d5" stroke-width="1.85" fill="none"/>
<path d="M139.30,443.68 L141.98,442.31 L144.67,440.95 L147.35,439.58 L150.04,438.21 L152.73,436.84 L155.41,435.47 L158.10,434.10 L160.78,432.73 L163.47,431.37 L166.16,430.00 L168.84,428.63 L171.53,427.26 L174.21,425.89 L176.90,424.52 L179.59,423.15 L182.27,421.79 L184.96,420.42 L187.64,419.05 L190.33,417.68 L193.02,416.31 L195.70,414.94 L198.39,413.57 L201.07,412.21 L203.76,410.84 L206.45,409.47 L209.13,408.10 L211.82,406.73 L214.50,405.36 L217.19,403.99 L219.88,402.63 L222.56,401.26 L225.25,399.89 L227.93,398.52 L230.62,397.15 L233.31,395.78 L235.99,394.41 L238.68,393.04 L241.36,391.68 L244.05,390.31 L246.75,388.93 L248.61,388.00 L250.51,387.09 L252.41,386.21 L254.33,385.37 L256.26,384.55 L258.21,383.76 L260.17,383.00 L262.14,382.27 L264.12,381.58 L266.11,380.92 L268.11,380.28 L270.12,379.68 L272.14,379.11 L274.17,378.57 L276.21,378.07 L278.25,377.59 L280.30,377.15 L282.36,376.74 L284.43,376.36 L286.50,376.02 L288.57,375.71 L290.65,375.43 L292.74,375.18 L294.82,374.97 L296.92,374.79 L299.01,374.64 L301.11,374.52 L303.20,374.44 L305.30,374.39 L307.39,374.38 L315.72,374.38 L324.04,374.38 L332.36,374.38 L340.68,374.38 L349.00,374.38 L357.32,374.38 L365.64,374.38 L373.96,374.38 L382.28,374.38 L390.60,374.38 L398.92,374.38 L407.24,374.38 L415.56,374.38 L423.88,374.38 L432.20,374.38 L440.52,374.38 L448.84,374.38 L457.16,374.38 L465.48,374.38 L473.81,374.38 L475.90,374.39 L478.00,374.44 L480.09,374.52 L482.19,374.64 L484.28,374.79 L486.38,374.97 L488.46,375.18 L490.55,375.43 L492.63,375.71 L494.70,376.02 L496.77,376.36 L498.84,376.74 L500.90,377.15 L502.95,377.59 L504.99,378.07 L507.03,378.57 L509.06,379.11 L511.08,379.68 L513.09,380.28 L515.09,380.92 L517.08,381.58 L519.06,382.27 L521.03,383.00 L522.99,383.76 L524.94,384.55 L526.87,385.37 L528.79,386.21 L530.69,387.09 L532.59,388.00 L534.45,388.93 L537.15,390.31 L539.84,391.68 L542.52,393.04 L545.21,394.41 L547.89,395.78 L550.58,397.15 L553.27,398.52 L555.95,399.89 L558.64,401.26 L561.32,402.63 L564.01,403.99 L566.70,405.36 L569.38,406.73 L572.07,408.10 L574.75,409.47 L577.44,410.84 L580.13,412.21 L582.81,413.57 L585.50,414.94 L588.18,416.31 L590.87,417.68 L593.56,419.05 L596.24,420.42 L598.93,421.79 L601.61,423.15 L604.30,424.52 L606.99,425.89 L609.67,427.26 L612.36,428.63 L615.04,430.00 L617.73,431.37 L620.42,432.73 L623.10,434.10 L625.79,435.47 L628.47,436.84 L631.16,438.21 L633.85,439.58 L636.53,440.95 L639.22,442.31 L641.90,443.68" stroke="#d8dccd" stroke-width="1.85" fill="none"/>
<path d="M139.86,444.80 L142.55,443.43 L145.24,442.06 L147.92,440.69 L150.61,439.32 L153.29,437.95 L155.98,436.58 L158.67,435.22 L161.35,433.85 L164.04,432.48 L166.72,431.11 L169.41,429.74 L172.10,428.37 L174.78,427.00 L177.47,425.64 L180.15,424.27 L182.84,422.90 L185.53,421.53 L188.21,420.16 L190.90,418.79 L193.58,417.42 L196.27,416.06 L198.96,414.69 L201.64,413.32 L204.33,411.95 L207.01,410.58 L209.70,409.21 L212.39,407.84 L215.07,406.48 L217.76,405.11 L220.44,403.74 L223.13,402.37 L225.82,401.00 L228.50,399.63 L231.19,398.26 L233.87,396.90 L236.56,395.53 L239.25,394.16 L241.93,392.79 L244.62,391.42 L247.32,390.05 L249.16,389.12 L251.04,388.22 L252.93,387.35 L254.83,386.51 L256.74,385.70 L258.67,384.92 L260.61,384.17 L262.56,383.45 L264.52,382.76 L266.49,382.10 L268.48,381.48 L270.47,380.88 L272.47,380.32 L274.48,379.78 L276.50,379.28 L278.52,378.81 L280.56,378.38 L282.60,377.97 L284.64,377.60 L286.69,377.25 L288.75,376.95 L290.81,376.67 L292.87,376.42 L294.94,376.21 L297.01,376.03 L299.09,375.89 L301.16,375.77 L303.24,375.69 L305.32,375.64 L307.39,375.63 L315.72,375.62 L324.04,375.62 L332.36,375.62 L340.68,375.62 L349.00,375.62 L357.32,375.62 L365.64,375.62 L373.96,375.62 L382.28,375.62 L390.60,375.62 L398.92,375.62 L407.24,375.62 L415.56,375.62 L423.88,375.62 L432.20,375.62 L440.52,375.62 L448.84,375.62 L457.16,375.62 L465.48,375.62 L473.81,375.63 L475.88,375.64 L477.96,375.69 L480.04,375.77 L482.11,375.89 L484.19,376.03 L486.26,376.21 L488.33,376.42 L490.39,376.67 L492.45,376.95 L494.51,377.25 L496.56,377.60 L498.60,377.97 L500.64,378.38 L502.68,378.81 L504.70,379.28 L506.72,379.78 L508.73,380.32 L510.73,380.88 L512.72,381.48 L514.71,382.10 L516.68,382.76 L518.64,383.45 L520.59,384.17 L522.53,384.92 L524.46,385.70 L526.37,386.51 L528.27,387.35 L530.16,388.22 L532.04,389.12 L533.88,390.05 L536.58,391.42 L539.27,392.79 L541.95,394.16 L544.64,395.53 L547.33,396.90 L550.01,398.26 L552.70,399.63 L555.38,401.00 L558.07,402.37 L560.76,403.74 L563.44,405.11 L566.13,406.48 L568.81,407.84 L571.50,409.21 L574.19,410.58 L576.87,411.95 L579.56,413.32 L582.24,414.69 L584.93,416.06 L587.62,417.42 L590.30,418.79 L592.99,420.16 L595.67,421.53 L598.36,422.90 L601.05,424.27 L603.73,425.64 L606.42,427.00 L609.10,428.37 L611.79,429.74 L614.48,431.11 L617.16,432.48 L619.85,433.85 L622.53,435.22 L625.22,436.58 L627.91,437.95 L630.59,439.32 L633.28,440.69 L635.96,442.06 L638.65,443.43 L641.34,444.80" stroke="#d5d8c7" stroke-width="1.85" fill="none"/>
<path d="M140.43,445.91 L143.12,444.54 L145.80,443.17 L148.49,441.80 L151.18,440.44 L153.86,439.07 L156.55,437.70 L159.23,436.33 L161.92,434.96 L164.61,433.59 L167.29,432.22 L169.98,430.86 L172.66,429.49 L175.35,428.12 L178.04,426.75 L180.72,425.38 L183.41,424.01 L186.09,422.64 L188.78,421.28 L191.46,419.91 L194.15,418.54 L196.84,417.17 L199.52,415.80 L202.21,414.43 L204.89,413.06 L207.58,411.70 L210.27,410.33 L212.95,408.96 L215.64,407.59 L218.32,406.22 L221.01,404.85 L223.70,403.48 L226.38,402.12 L229.07,400.75 L231.75,399.38 L234.44,398.01 L237.13,396.64 L239.81,395.27 L242.50,393.90 L245.18,392.54 L247.88,391.16 L249.71,390.25 L251.57,389.35 L253.44,388.49 L255.32,387.66 L257.22,386.86 L259.13,386.08 L261.05,385.34 L262.98,384.63 L264.93,383.94 L266.88,383.29 L268.84,382.67 L270.82,382.08 L272.80,381.52 L274.79,380.99 L276.79,380.50 L278.80,380.03 L280.81,379.60 L282.83,379.20 L284.86,378.83 L286.89,378.49 L288.92,378.18 L290.97,377.91 L293.01,377.67 L295.06,377.46 L297.11,377.28 L299.17,377.13 L301.22,377.02 L303.28,376.94 L305.34,376.89 L307.40,376.88 L315.72,376.88 L324.04,376.88 L332.36,376.88 L340.68,376.88 L349.00,376.88 L357.32,376.88 L365.64,376.88 L373.96,376.88 L382.28,376.88 L390.60,376.88 L398.92,376.88 L407.24,376.88 L415.56,376.88 L423.88,376.88 L432.20,376.88 L440.52,376.88 L448.84,376.88 L457.16,376.88 L465.48,376.88 L473.80,376.88 L475.86,376.89 L477.92,376.94 L479.98,377.02 L482.03,377.13 L484.09,377.28 L486.14,377.46 L488.19,377.67 L490.23,377.91 L492.28,378.18 L494.31,378.49 L496.34,378.83 L498.37,379.20 L500.39,379.60 L502.40,380.03 L504.41,380.50 L506.41,380.99 L508.40,381.52 L510.38,382.08 L512.36,382.67 L514.32,383.29 L516.27,383.94 L518.22,384.63 L520.15,385.34 L522.07,386.08 L523.98,386.86 L525.88,387.66 L527.76,388.49 L529.63,389.35 L531.49,390.25 L533.32,391.16 L536.02,392.54 L538.70,393.90 L541.39,395.27 L544.07,396.64 L546.76,398.01 L549.45,399.38 L552.13,400.75 L554.82,402.12 L557.50,403.48 L560.19,404.85 L562.88,406.22 L565.56,407.59 L568.25,408.96 L570.93,410.33 L573.62,411.70 L576.31,413.06 L578.99,414.43 L581.68,415.80 L584.36,417.17 L587.05,418.54 L589.74,419.91 L592.42,421.28 L595.11,422.64 L597.79,424.01 L600.48,425.38 L603.16,426.75 L605.85,428.12 L608.54,429.49 L611.22,430.86 L613.91,432.22 L616.59,433.59 L619.28,434.96 L621.97,436.33 L624.65,437.70 L627.34,439.07 L630.02,440.44 L632.71,441.80 L635.40,443.17 L638.08,444.54 L640.77,445.91" stroke="#d2d5c3" stroke-width="1.85" fill="none"/>
<path d="M141.00,447.02 L143.68,445.65 L146.37,444.29 L149.06,442.92 L151.74,441.55 L154.43,440.18 L157.11,438.81 L159.80,437.44 L162.49,436.07 L165.17,434.71 L167.86,433.34 L170.54,431.97 L173.23,430.60 L175.92,429.23 L178.60,427.86 L181.29,426.49 L183.97,425.13 L186.66,423.76 L189.35,422.39 L192.03,421.02 L194.72,419.65 L197.40,418.28 L200.09,416.91 L202.78,415.55 L205.46,414.18 L208.15,412.81 L210.83,411.44 L213.52,410.07 L216.21,408.70 L218.89,407.33 L221.58,405.97 L224.26,404.60 L226.95,403.23 L229.64,401.86 L232.32,400.49 L235.01,399.12 L237.69,397.75 L240.38,396.39 L243.07,395.02 L245.75,393.65 L248.44,392.28 L250.26,391.37 L252.10,390.49 L253.95,389.63 L255.82,388.81 L257.70,388.01 L259.59,387.25 L261.49,386.51 L263.41,385.80 L265.33,385.13 L267.27,384.48 L269.21,383.87 L271.17,383.28 L273.13,382.73 L275.10,382.21 L277.08,381.71 L279.07,381.25 L281.06,380.82 L283.06,380.43 L285.07,380.06 L287.08,379.72 L289.10,379.42 L291.12,379.15 L293.15,378.91 L295.18,378.70 L297.21,378.53 L299.25,378.38 L301.28,378.27 L303.32,378.19 L305.36,378.14 L307.40,378.13 L315.72,378.12 L324.04,378.12 L332.36,378.12 L340.68,378.12 L349.00,378.12 L357.32,378.12 L365.64,378.12 L373.96,378.12 L382.28,378.12 L390.60,378.12 L398.92,378.12 L407.24,378.12 L415.56,378.12 L423.88,378.12 L432.20,378.12 L440.52,378.12 L448.84,378.12 L457.16,378.12 L465.48,378.12 L473.80,378.13 L475.84,378.14 L477.88,378.19 L479.92,378.27 L481.95,378.38 L483.99,378.53 L486.02,378.70 L488.05,378.91 L490.08,379.15 L492.10,379.42 L494.12,379.72 L496.13,380.06 L498.14,380.43 L500.14,380.82 L502.13,381.25 L504.12,381.71 L506.10,382.21 L508.07,382.73 L510.03,383.28 L511.99,383.87 L513.93,384.48 L515.87,385.13 L517.79,385.80 L519.71,386.51 L521.61,387.25 L523.50,388.01 L525.38,388.81 L527.25,389.63 L529.10,390.49 L530.94,391.37 L532.76,392.28 L535.45,393.65 L538.13,395.02 L540.82,396.39 L543.51,397.75 L546.19,399.12 L548.88,400.49 L551.56,401.86 L554.25,403.23 L556.94,404.60 L559.62,405.97 L562.31,407.33 L564.99,408.70 L567.68,410.07 L570.37,411.44 L573.05,412.81 L575.74,414.18 L578.42,415.55 L581.11,416.91 L583.80,418.28 L586.48,419.65 L589.17,421.02 L591.85,422.39 L594.54,423.76 L597.23,425.13 L599.91,426.49 L602.60,427.86 L605.28,429.23 L607.97,430.60 L610.66,431.97 L613.34,433.34 L616.03,434.71 L618.71,436.07 L621.40,437.44 L624.09,438.81 L626.77,440.18 L629.46,441.55 L632.14,442.92 L634.83,444.29 L637.52,445.65 L640.20,447.02" stroke="#d0d2c0" stroke-width="1.85" fill="none"/>
<path d="M141.57,448.14 L144.25,446.77 L146.94,445.40 L149.62,444.03 L152.31,442.66 L155.00,441.29 L157.68,439.93 L160.37,438.56 L163.05,437.19 L165.74,435.82 L168.43,434.45 L171.11,433.08 L173.80,431.71 L176.48,430.35 L179.17,428.98 L181.86,427.61 L184.54,426.24 L187.23,424.87 L189.91,423.50 L192.60,422.13 L195.29,420.77 L197.97,419.40 L200.66,418.03 L203.34,416.66 L206.03,415.29 L208.72,413.92 L211.40,412.55 L214.09,411.19 L216.77,409.82 L219.46,408.45 L222.15,407.08 L224.83,405.71 L227.52,404.34 L230.20,402.97 L232.89,401.61 L235.58,400.24 L238.26,398.87 L240.95,397.50 L243.63,396.13 L246.32,394.76 L249.01,393.39 L250.81,392.49 L252.63,391.62 L254.47,390.77 L256.32,389.95 L258.18,389.17 L260.05,388.41 L261.93,387.68 L263.83,386.98 L265.74,386.31 L267.65,385.67 L269.58,385.06 L271.51,384.48 L273.46,383.93 L275.41,383.42 L277.37,382.93 L279.34,382.47 L281.32,382.05 L283.30,381.65 L285.29,381.29 L287.28,380.96 L289.28,380.66 L291.28,380.39 L293.29,380.15 L295.30,379.95 L297.31,379.77 L299.32,379.63 L301.34,379.52 L303.36,379.44 L305.38,379.39 L307.40,379.38 L315.72,379.38 L324.04,379.38 L332.36,379.38 L340.68,379.38 L349.00,379.38 L357.32,379.38 L365.64,379.38 L373.96,379.38 L382.28,379.38 L390.60,379.38 L398.92,379.38 L407.24,379.38 L415.56,379.38 L423.88,379.38 L432.20,379.38 L440.52,379.38 L448.84,379.38 L457.16,379.38 L465.48,379.38 L473.80,379.38 L475.82,379.39 L477.84,379.44 L479.86,379.52 L481.88,379.63 L483.89,379.77 L485.90,379.95 L487.91,380.15 L489.92,380.39 L491.92,380.66 L493.92,380.96 L495.91,381.29 L497.90,381.65 L499.88,382.05 L501.86,382.47 L503.83,382.93 L505.79,383.42 L507.74,383.93 L509.69,384.48 L511.62,385.06 L513.55,385.67 L515.46,386.31 L517.37,386.98 L519.27,387.68 L521.15,388.41 L523.02,389.17 L524.88,389.95 L526.73,390.77 L528.57,391.62 L530.39,392.49 L532.19,393.39 L534.88,394.76 L537.57,396.13 L540.25,397.50 L542.94,398.87 L545.62,400.24 L548.31,401.61 L551.00,402.97 L553.68,404.34 L556.37,405.71 L559.05,407.08 L561.74,408.45 L564.43,409.82 L567.11,411.19 L569.80,412.55 L572.48,413.92 L575.17,415.29 L577.86,416.66 L580.54,418.03 L583.23,419.40 L585.91,420.77 L588.60,422.13 L591.29,423.50 L593.97,424.87 L596.66,426.24 L599.34,427.61 L602.03,428.98 L604.72,430.35 L607.40,431.71 L610.09,433.08 L612.77,434.45 L615.46,435.82 L618.15,437.19 L620.83,438.56 L623.52,439.93 L626.20,441.29 L628.89,442.66 L631.58,444.03 L634.26,445.40 L636.95,446.77 L639.63,448.14" stroke="#ced0bd" stroke-width="1.85" fill="none"/>
<path d="M142.13,449.25 L144.82,447.88 L147.51,446.51 L150.19,445.15 L152.88,443.78 L155.56,442.41 L158.25,441.04 L160.94,439.67 L163.62,438.30 L166.31,436.93 L168.99,435.57 L171.68,434.20 L174.37,432.83 L177.05,431.46 L179.74,430.09 L182.42,428.72 L185.11,427.35 L187.80,425.99 L190.48,424.62 L193.17,423.25 L195.85,421.88 L198.54,420.51 L201.23,419.14 L203.91,417.77 L206.60,416.41 L209.28,415.04 L211.97,413.67 L214.66,412.30 L217.34,410.93 L220.03,409.56 L222.71,408.19 L225.40,406.83 L228.09,405.46 L230.77,404.09 L233.46,402.72 L236.14,401.35 L238.83,399.98 L241.52,398.61 L244.20,397.25 L246.89,395.88 L249.57,394.51 L251.36,393.61 L253.17,392.75 L254.98,391.91 L256.81,391.10 L258.66,390.32 L260.51,389.57 L262.38,388.85 L264.25,388.16 L266.14,387.49 L268.04,386.86 L269.95,386.26 L271.86,385.68 L273.79,385.14 L275.72,384.63 L277.66,384.14 L279.61,383.69 L281.57,383.27 L283.53,382.88 L285.50,382.52 L287.47,382.19 L289.45,381.90 L291.44,381.63 L293.42,381.39 L295.41,381.19 L297.41,381.02 L299.40,380.88 L301.40,380.77 L303.40,380.69 L305.40,380.64 L307.40,380.62 L315.72,380.62 L324.04,380.62 L332.36,380.62 L340.68,380.62 L349.00,380.62 L357.32,380.62 L365.64,380.62 L373.96,380.62 L382.28,380.62 L390.60,380.62 L398.92,380.62 L407.24,380.62 L415.56,380.62 L423.88,380.62 L432.20,380.62 L440.52,380.62 L448.84,380.62 L457.16,380.62 L465.48,380.62 L473.80,380.62 L475.80,380.64 L477.80,380.69 L479.80,380.77 L481.80,380.88 L483.79,381.02 L485.79,381.19 L487.78,381.39 L489.76,381.63 L491.75,381.90 L493.73,382.19 L495.70,382.52 L497.67,382.88 L499.63,383.27 L501.59,383.69 L503.54,384.14 L505.48,384.63 L507.41,385.14 L509.34,385.68 L511.25,386.26 L513.16,386.86 L515.06,387.49 L516.95,388.16 L518.82,388.85 L520.69,389.57 L522.54,390.32 L524.39,391.10 L526.22,391.91 L528.03,392.75 L529.84,393.61 L531.63,394.51 L534.31,395.88 L537.00,397.25 L539.68,398.61 L542.37,399.98 L545.06,401.35 L547.74,402.72 L550.43,404.09 L553.11,405.46 L555.80,406.83 L558.49,408.19 L561.17,409.56 L563.86,410.93 L566.54,412.30 L569.23,413.67 L571.92,415.04 L574.60,416.41 L577.29,417.77 L579.97,419.14 L582.66,420.51 L585.35,421.88 L588.03,423.25 L590.72,424.62 L593.40,425.99 L596.09,427.35 L598.78,428.72 L601.46,430.09 L604.15,431.46 L606.83,432.83 L609.52,434.20 L612.21,435.57 L614.89,436.93 L617.58,438.30 L620.26,439.67 L622.95,441.04 L625.64,442.41 L628.32,443.78 L631.01,445.15 L633.69,446.51 L636.38,447.88 L639.07,449.25" stroke="#cdcfbb" stroke-width="1.85" fill="none"/>
<path d="M142.70,450.36 L145.39,449.00 L148.07,447.63 L150.76,446.26 L153.45,444.89 L156.13,443.52 L158.82,442.15 L161.50,440.78 L164.19,439.42 L166.88,438.05 L169.56,436.68 L172.25,435.31 L174.93,433.94 L177.62,432.57 L180.30,431.20 L182.99,429.84 L185.68,428.47 L188.36,427.10 L191.05,425.73 L193.73,424.36 L196.42,422.99 L199.11,421.62 L201.79,420.26 L204.48,418.89 L207.16,417.52 L209.85,416.15 L212.54,414.78 L215.22,413.41 L217.91,412.04 L220.59,410.68 L223.28,409.31 L225.97,407.94 L228.65,406.57 L231.34,405.20 L234.02,403.83 L236.71,402.46 L239.40,401.10 L242.08,399.73 L244.77,398.36 L247.45,396.99 L250.14,395.62 L251.91,394.74 L253.70,393.88 L255.50,393.05 L257.31,392.25 L259.13,391.48 L260.97,390.73 L262.82,390.02 L264.68,389.33 L266.55,388.67 L268.43,388.05 L270.31,387.45 L272.21,386.88 L274.12,386.35 L276.03,385.84 L277.96,385.36 L279.89,384.91 L281.82,384.50 L283.77,384.11 L285.72,383.75 L287.67,383.43 L289.63,383.13 L291.59,382.87 L293.56,382.64 L295.53,382.43 L297.50,382.26 L299.48,382.12 L301.46,382.02 L303.44,381.94 L305.42,381.89 L307.40,381.87 L315.72,381.88 L324.04,381.88 L332.36,381.88 L340.68,381.88 L349.00,381.88 L357.32,381.88 L365.64,381.88 L373.96,381.88 L382.28,381.88 L390.60,381.88 L398.92,381.88 L407.24,381.88 L415.56,381.88 L423.88,381.88 L432.20,381.88 L440.52,381.88 L448.84,381.88 L457.16,381.88 L465.48,381.88 L473.80,381.87 L475.78,381.89 L477.76,381.94 L479.74,382.02 L481.72,382.12 L483.70,382.26 L485.67,382.43 L487.64,382.64 L489.61,382.87 L491.57,383.13 L493.53,383.43 L495.48,383.75 L497.43,384.11 L499.38,384.50 L501.31,384.91 L503.24,385.36 L505.17,385.84 L507.08,386.35 L508.99,386.88 L510.89,387.45 L512.77,388.05 L514.65,388.67 L516.52,389.33 L518.38,390.02 L520.23,390.73 L522.07,391.48 L523.89,392.25 L525.70,393.05 L527.50,393.88 L529.29,394.74 L531.06,395.62 L533.75,396.99 L536.43,398.36 L539.12,399.73 L541.80,401.10 L544.49,402.46 L547.18,403.83 L549.86,405.20 L552.55,406.57 L555.23,407.94 L557.92,409.31 L560.61,410.68 L563.29,412.04 L565.98,413.41 L568.66,414.78 L571.35,416.15 L574.04,417.52 L576.72,418.89 L579.41,420.26 L582.09,421.62 L584.78,422.99 L587.47,424.36 L590.15,425.73 L592.84,427.10 L595.52,428.47 L598.21,429.84 L600.90,431.20 L603.58,432.57 L606.27,433.94 L608.95,435.31 L611.64,436.68 L614.32,438.05 L617.01,439.42 L619.70,440.78 L622.38,442.15 L625.07,443.52 L627.75,444.89 L630.44,446.26 L633.13,447.63 L635.81,449.00 L638.50,450.36" stroke="#ccceba" stroke-width="1.85" fill="none"/>
<path d="M143.27,451.48 L145.95,450.11 L148.64,448.74 L151.33,447.37 L154.01,446.00 L156.70,444.64 L159.38,443.27 L162.07,441.90 L164.76,440.53 L167.44,439.16 L170.13,437.79 L172.81,436.42 L175.50,435.06 L178.19,433.69 L180.87,432.32 L183.56,430.95 L186.24,429.58 L188.93,428.21 L191.62,426.84 L194.30,425.48 L196.99,424.11 L199.67,422.74 L202.36,421.37 L205.05,420.00 L207.73,418.63 L210.42,417.26 L213.10,415.90 L215.79,414.53 L218.48,413.16 L221.16,411.79 L223.85,410.42 L226.53,409.05 L229.22,407.68 L231.91,406.32 L234.59,404.95 L237.28,403.58 L239.96,402.21 L242.65,400.84 L245.34,399.47 L248.02,398.10 L250.70,396.74 L252.46,395.86 L254.23,395.01 L256.01,394.19 L257.81,393.40 L259.61,392.63 L261.43,391.89 L263.26,391.19 L265.10,390.51 L266.95,389.86 L268.81,389.24 L270.68,388.65 L272.56,388.08 L274.45,387.55 L276.34,387.05 L278.25,386.58 L280.16,386.13 L282.08,385.72 L284.00,385.34 L285.93,384.98 L287.87,384.66 L289.80,384.37 L291.75,384.11 L293.70,383.88 L295.65,383.68 L297.60,383.51 L299.56,383.37 L301.52,383.26 L303.48,383.19 L305.44,383.14 L307.40,383.12 L315.72,383.12 L324.04,383.12 L332.36,383.12 L340.68,383.12 L349.00,383.12 L357.32,383.12 L365.64,383.12 L373.96,383.12 L382.28,383.12 L390.60,383.12 L398.92,383.12 L407.24,383.12 L415.56,383.12 L423.88,383.12 L432.20,383.12 L440.52,383.12 L448.84,383.12 L457.16,383.12 L465.48,383.12 L473.80,383.12 L475.76,383.14 L477.72,383.19 L479.68,383.26 L481.64,383.37 L483.60,383.51 L485.55,383.68 L487.50,383.88 L489.45,384.11 L491.40,384.37 L493.33,384.66 L495.27,384.98 L497.20,385.34 L499.12,385.72 L501.04,386.13 L502.95,386.58 L504.86,387.05 L506.75,387.55 L508.64,388.08 L510.52,388.65 L512.39,389.24 L514.25,389.86 L516.10,390.51 L517.94,391.19 L519.77,391.89 L521.59,392.63 L523.39,393.40 L525.19,394.19 L526.97,395.01 L528.74,395.86 L530.50,396.74 L533.18,398.10 L535.86,399.47 L538.55,400.84 L541.24,402.21 L543.92,403.58 L546.61,404.95 L549.29,406.32 L551.98,407.68 L554.67,409.05 L557.35,410.42 L560.04,411.79 L562.72,413.16 L565.41,414.53 L568.10,415.90 L570.78,417.26 L573.47,418.63 L576.15,420.00 L578.84,421.37 L581.53,422.74 L584.21,424.11 L586.90,425.48 L589.58,426.84 L592.27,428.21 L594.96,429.58 L597.64,430.95 L600.33,432.32 L603.01,433.69 L605.70,435.06 L608.39,436.42 L611.07,437.79 L613.76,439.16 L616.44,440.53 L619.13,441.90 L621.82,443.27 L624.50,444.64 L627.19,446.00 L629.87,447.37 L632.56,448.74 L635.25,450.11 L637.93,451.48" stroke="#cbcdb9" stroke-width="1.85" fill="none"/>
<path d="M143.84,452.59 L146.52,451.22 L149.21,449.86 L151.89,448.49 L154.58,447.12 L157.27,445.75 L159.95,444.38 L162.64,443.01 L165.32,441.64 L168.01,440.28 L170.70,438.91 L173.38,437.54 L176.07,436.17 L178.75,434.80 L181.44,433.43 L184.13,432.06 L186.81,430.70 L189.50,429.33 L192.18,427.96 L194.87,426.59 L197.56,425.22 L200.24,423.85 L202.93,422.48 L205.61,421.12 L208.30,419.75 L210.99,418.38 L213.67,417.01 L216.36,415.64 L219.04,414.27 L221.73,412.90 L224.42,411.54 L227.10,410.17 L229.79,408.80 L232.47,407.43 L235.16,406.06 L237.85,404.69 L240.53,403.32 L243.22,401.96 L245.90,400.59 L248.59,399.22 L251.26,397.86 L253.01,396.98 L254.76,396.14 L256.53,395.33 L258.30,394.54 L260.09,393.79 L261.89,393.06 L263.70,392.36 L265.52,391.68 L267.36,391.04 L269.20,390.43 L271.05,389.84 L272.91,389.28 L274.78,388.76 L276.66,388.26 L278.54,387.79 L280.43,387.35 L282.33,386.94 L284.23,386.56 L286.15,386.22 L288.06,385.90 L289.98,385.61 L291.91,385.35 L293.83,385.12 L295.77,384.92 L297.70,384.76 L299.64,384.62 L301.58,384.51 L303.52,384.44 L305.46,384.39 L307.41,384.37 L315.72,384.38 L324.04,384.38 L332.36,384.38 L340.68,384.38 L349.00,384.38 L357.32,384.38 L365.64,384.38 L373.96,384.38 L382.28,384.38 L390.60,384.38 L398.92,384.38 L407.24,384.38 L415.56,384.38 L423.88,384.38 L432.20,384.38 L440.52,384.38 L448.84,384.38 L457.16,384.38 L465.48,384.38 L473.79,384.37 L475.74,384.39 L477.68,384.44 L479.62,384.51 L481.56,384.62 L483.50,384.76 L485.43,384.92 L487.37,385.12 L489.29,385.35 L491.22,385.61 L493.14,385.90 L495.05,386.22 L496.97,386.56 L498.87,386.94 L500.77,387.35 L502.66,387.79 L504.54,388.26 L506.42,388.76 L508.29,389.28 L510.15,389.84 L512.00,390.43 L513.84,391.04 L515.68,391.68 L517.50,392.36 L519.31,393.06 L521.11,393.79 L522.90,394.54 L524.67,395.33 L526.44,396.14 L528.19,396.98 L529.94,397.86 L532.61,399.22 L535.30,400.59 L537.98,401.96 L540.67,403.32 L543.35,404.69 L546.04,406.06 L548.73,407.43 L551.41,408.80 L554.10,410.17 L556.78,411.54 L559.47,412.90 L562.16,414.27 L564.84,415.64 L567.53,417.01 L570.21,418.38 L572.90,419.75 L575.59,421.12 L578.27,422.48 L580.96,423.85 L583.64,425.22 L586.33,426.59 L589.02,427.96 L591.70,429.33 L594.39,430.70 L597.07,432.06 L599.76,433.43 L602.45,434.80 L605.13,436.17 L607.82,437.54 L610.50,438.91 L613.19,440.28 L615.88,441.64 L618.56,443.01 L621.25,444.38 L623.93,445.75 L626.62,447.12 L629.31,448.49 L631.99,449.86 L634.68,451.22 L637.36,452.59" stroke="#caccb8" stroke-width="1.85" fill="none"/>
<path d="M144.40,453.71 L147.09,452.34 L149.78,450.97 L152.46,449.60 L155.15,448.23 L157.83,446.86 L160.52,445.49 L163.21,444.13 L165.89,442.76 L168.58,441.39 L171.26,440.02 L173.95,438.65 L176.64,437.28 L179.32,435.91 L182.01,434.55 L184.69,433.18 L187.38,431.81 L190.07,430.44 L192.75,429.07 L195.44,427.70 L198.12,426.33 L200.81,424.97 L203.50,423.60 L206.18,422.23 L208.87,420.86 L211.55,419.49 L214.24,418.12 L216.93,416.75 L219.61,415.39 L222.30,414.02 L224.98,412.65 L227.67,411.28 L230.36,409.91 L233.04,408.54 L235.73,407.17 L238.41,405.81 L241.10,404.44 L243.78,403.07 L246.47,401.70 L249.16,400.33 L251.83,398.97 L253.56,398.10 L255.30,397.27 L257.04,396.47 L258.80,395.69 L260.57,394.94 L262.35,394.22 L264.14,393.53 L265.95,392.86 L267.76,392.22 L269.58,391.61 L271.42,391.03 L273.26,390.48 L275.11,389.96 L276.97,389.47 L278.83,389.01 L280.70,388.57 L282.58,388.17 L284.47,387.79 L286.36,387.45 L288.26,387.13 L290.16,386.85 L292.06,386.59 L293.97,386.36 L295.88,386.17 L297.80,386.00 L299.72,385.87 L301.64,385.76 L303.56,385.69 L305.48,385.64 L307.41,385.62 L315.72,385.62 L324.04,385.62 L332.36,385.62 L340.68,385.62 L349.00,385.62 L357.32,385.62 L365.64,385.62 L373.96,385.62 L382.28,385.62 L390.60,385.62 L398.92,385.62 L407.24,385.62 L415.56,385.62 L423.88,385.62 L432.20,385.62 L440.52,385.62 L448.84,385.62 L457.16,385.62 L465.48,385.62 L473.79,385.62 L475.72,385.64 L477.64,385.69 L479.56,385.76 L481.48,385.87 L483.40,386.00 L485.32,386.17 L487.23,386.36 L489.14,386.59 L491.04,386.85 L492.94,387.13 L494.84,387.45 L496.73,387.79 L498.62,388.17 L500.50,388.57 L502.37,389.01 L504.23,389.47 L506.09,389.96 L507.94,390.48 L509.78,391.03 L511.62,391.61 L513.44,392.22 L515.25,392.86 L517.06,393.53 L518.85,394.22 L520.63,394.94 L522.40,395.69 L524.16,396.47 L525.90,397.27 L527.64,398.10 L529.37,398.97 L532.04,400.33 L534.73,401.70 L537.42,403.07 L540.10,404.44 L542.79,405.81 L545.47,407.17 L548.16,408.54 L550.84,409.91 L553.53,411.28 L556.22,412.65 L558.90,414.02 L561.59,415.39 L564.27,416.75 L566.96,418.12 L569.65,419.49 L572.33,420.86 L575.02,422.23 L577.70,423.60 L580.39,424.97 L583.08,426.33 L585.76,427.70 L588.45,429.07 L591.13,430.44 L593.82,431.81 L596.51,433.18 L599.19,434.55 L601.88,435.91 L604.56,437.28 L607.25,438.65 L609.94,440.02 L612.62,441.39 L615.31,442.76 L617.99,444.13 L620.68,445.49 L623.37,446.86 L626.05,448.23 L628.74,449.60 L631.42,450.97 L634.11,452.34 L636.80,453.71" stroke="#c9cbb7" stroke-width="1.85" fill="none"/>
<path d="M144.97,454.82 L147.66,453.45 L150.34,452.08 L153.03,450.71 L155.72,449.35 L158.40,447.98 L161.09,446.61 L163.77,445.24 L166.46,443.87 L169.15,442.50 L171.83,441.13 L174.52,439.77 L177.20,438.40 L179.89,437.03 L182.57,435.66 L185.26,434.29 L187.95,432.92 L190.63,431.55 L193.32,430.19 L196.00,428.82 L198.69,427.45 L201.38,426.08 L204.06,424.71 L206.75,423.34 L209.43,421.97 L212.12,420.61 L214.81,419.24 L217.49,417.87 L220.18,416.50 L222.86,415.13 L225.55,413.76 L228.24,412.39 L230.92,411.03 L233.61,409.66 L236.29,408.29 L238.98,406.92 L241.67,405.55 L244.35,404.18 L247.04,402.81 L249.72,401.45 L252.39,400.09 L254.11,399.23 L255.83,398.40 L257.56,397.61 L259.30,396.84 L261.05,396.10 L262.81,395.38 L264.59,394.69 L266.37,394.04 L268.17,393.41 L269.97,392.80 L271.78,392.23 L273.61,391.68 L275.44,391.17 L277.28,390.68 L279.12,390.22 L280.98,389.79 L282.84,389.39 L284.70,389.02 L286.58,388.68 L288.45,388.37 L290.33,388.08 L292.22,387.83 L294.11,387.61 L296.00,387.41 L297.90,387.25 L299.79,387.11 L301.69,387.01 L303.60,386.93 L305.50,386.89 L307.41,386.87 L315.72,386.88 L324.04,386.88 L332.36,386.88 L340.68,386.88 L349.00,386.88 L357.32,386.88 L365.64,386.88 L373.96,386.88 L382.28,386.88 L390.60,386.88 L398.92,386.88 L407.24,386.88 L415.56,386.88 L423.88,386.88 L432.20,386.88 L440.52,386.88 L448.84,386.88 L457.16,386.88 L465.48,386.88 L473.79,386.87 L475.70,386.89 L477.60,386.93 L479.51,387.01 L481.41,387.11 L483.30,387.25 L485.20,387.41 L487.09,387.61 L488.98,387.83 L490.87,388.08 L492.75,388.37 L494.62,388.68 L496.50,389.02 L498.36,389.39 L500.22,389.79 L502.08,390.22 L503.92,390.68 L505.76,391.17 L507.59,391.68 L509.42,392.23 L511.23,392.80 L513.03,393.41 L514.83,394.04 L516.61,394.69 L518.39,395.38 L520.15,396.10 L521.90,396.84 L523.64,397.61 L525.37,398.40 L527.09,399.23 L528.81,400.09 L531.48,401.45 L534.16,402.81 L536.85,404.18 L539.53,405.55 L542.22,406.92 L544.91,408.29 L547.59,409.66 L550.28,411.03 L552.96,412.39 L555.65,413.76 L558.34,415.13 L561.02,416.50 L563.71,417.87 L566.39,419.24 L569.08,420.61 L571.77,421.97 L574.45,423.34 L577.14,424.71 L579.82,426.08 L582.51,427.45 L585.20,428.82 L587.88,430.19 L590.57,431.55 L593.25,432.92 L595.94,434.29 L598.63,435.66 L601.31,437.03 L604.00,438.40 L606.68,439.77 L609.37,441.13 L612.05,442.50 L614.74,443.87 L617.43,445.24 L620.11,446.61 L622.80,447.98 L625.48,449.35 L628.17,450.71 L630.86,452.08 L633.54,453.45 L636.23,454.82" stroke="#c8cab6" stroke-width="1.85" fill="none"/>
<path d="M145.54,455.93 L148.22,454.57 L150.91,453.20 L153.60,451.83 L156.28,450.46 L158.97,449.09 L161.65,447.72 L164.34,446.35 L167.03,444.99 L169.71,443.62 L172.40,442.25 L175.08,440.88 L177.77,439.51 L180.46,438.14 L183.14,436.77 L185.83,435.40 L188.51,434.04 L191.20,432.67 L193.89,431.30 L196.57,429.93 L199.26,428.56 L201.94,427.19 L204.63,425.82 L207.32,424.46 L210.00,423.09 L212.69,421.72 L215.37,420.35 L218.06,418.98 L220.75,417.61 L223.43,416.24 L226.12,414.88 L228.80,413.51 L231.49,412.14 L234.18,410.77 L236.86,409.40 L239.55,408.03 L242.23,406.66 L244.92,405.30 L247.61,403.93 L250.29,402.56 L252.96,401.20 L254.66,400.35 L256.36,399.53 L258.07,398.75 L259.79,397.98 L261.53,397.25 L263.27,396.54 L265.03,395.86 L266.79,395.21 L268.57,394.59 L270.36,393.99 L272.15,393.42 L273.96,392.88 L275.77,392.37 L277.59,391.89 L279.42,391.44 L281.25,391.01 L283.09,390.62 L284.94,390.25 L286.79,389.91 L288.65,389.60 L290.51,389.32 L292.38,389.07 L294.25,388.85 L296.12,388.66 L297.99,388.49 L299.87,388.36 L301.75,388.26 L303.63,388.18 L305.52,388.14 L307.41,388.12 L315.72,388.12 L324.04,388.12 L332.36,388.12 L340.68,388.12 L349.00,388.12 L357.32,388.12 L365.64,388.12 L373.96,388.12 L382.28,388.12 L390.60,388.12 L398.92,388.12 L407.24,388.12 L415.56,388.12 L423.88,388.12 L432.20,388.12 L440.52,388.12 L448.84,388.12 L457.16,388.12 L465.48,388.12 L473.79,388.12 L475.68,388.14 L477.57,388.18 L479.45,388.26 L481.33,388.36 L483.21,388.49 L485.08,388.66 L486.95,388.85 L488.82,389.07 L490.69,389.32 L492.55,389.60 L494.41,389.91 L496.26,390.25 L498.11,390.62 L499.95,391.01 L501.78,391.44 L503.61,391.89 L505.43,392.37 L507.24,392.88 L509.05,393.42 L510.84,393.99 L512.63,394.59 L514.41,395.21 L516.17,395.86 L517.93,396.54 L519.67,397.25 L521.41,397.98 L523.13,398.75 L524.84,399.53 L526.54,400.35 L528.24,401.20 L530.91,402.56 L533.59,403.93 L536.28,405.30 L538.97,406.66 L541.65,408.03 L544.34,409.40 L547.02,410.77 L549.71,412.14 L552.40,413.51 L555.08,414.88 L557.77,416.24 L560.45,417.61 L563.14,418.98 L565.83,420.35 L568.51,421.72 L571.20,423.09 L573.88,424.46 L576.57,425.82 L579.26,427.19 L581.94,428.56 L584.63,429.93 L587.31,431.30 L590.00,432.67 L592.69,434.04 L595.37,435.40 L598.06,436.77 L600.74,438.14 L603.43,439.51 L606.12,440.88 L608.80,442.25 L611.49,443.62 L614.17,444.99 L616.86,446.35 L619.55,447.72 L622.23,449.09 L624.92,450.46 L627.60,451.83 L630.29,453.20 L632.98,454.57 L635.66,455.93" stroke="#c7c9b4" stroke-width="1.85" fill="none"/>
<path d="M146.11,457.05 L148.79,455.68 L151.48,454.31 L154.16,452.94 L156.85,451.57 L159.54,450.20 L162.22,448.84 L164.91,447.47 L167.59,446.10 L170.28,444.73 L172.97,443.36 L175.65,441.99 L178.34,440.62 L181.02,439.26 L183.71,437.89 L186.40,436.52 L189.08,435.15 L191.77,433.78 L194.45,432.41 L197.14,431.04 L199.83,429.68 L202.51,428.31 L205.20,426.94 L207.88,425.57 L210.57,424.20 L213.26,422.83 L215.94,421.46 L218.63,420.10 L221.31,418.73 L224.00,417.36 L226.69,415.99 L229.37,414.62 L232.06,413.25 L234.74,411.88 L237.43,410.52 L240.12,409.15 L242.80,407.78 L245.49,406.41 L248.17,405.04 L250.86,403.67 L253.52,402.32 L255.21,401.47 L256.89,400.66 L258.58,399.88 L260.29,399.13 L262.00,398.40 L263.73,397.71 L265.47,397.03 L267.22,396.39 L268.98,395.77 L270.74,395.18 L272.52,394.62 L274.30,394.09 L276.10,393.58 L277.90,393.10 L279.71,392.65 L281.52,392.23 L283.34,391.84 L285.17,391.48 L287.00,391.14 L288.84,390.84 L290.69,390.56 L292.53,390.31 L294.38,390.09 L296.24,389.90 L298.09,389.74 L299.95,389.61 L301.81,389.51 L303.67,389.43 L305.54,389.39 L307.41,389.37 L315.72,389.38 L324.04,389.38 L332.36,389.38 L340.68,389.38 L349.00,389.38 L357.32,389.38 L365.64,389.38 L373.96,389.38 L382.28,389.38 L390.60,389.38 L398.92,389.38 L407.24,389.38 L415.56,389.38 L423.88,389.38 L432.20,389.38 L440.52,389.38 L448.84,389.38 L457.16,389.38 L465.48,389.38 L473.79,389.37 L475.66,389.39 L477.53,389.43 L479.39,389.51 L481.25,389.61 L483.11,389.74 L484.96,389.90 L486.82,390.09 L488.67,390.31 L490.51,390.56 L492.36,390.84 L494.20,391.14 L496.03,391.48 L497.86,391.84 L499.68,392.23 L501.49,392.65 L503.30,393.10 L505.10,393.58 L506.90,394.09 L508.68,394.62 L510.46,395.18 L512.22,395.77 L513.98,396.39 L515.73,397.03 L517.47,397.71 L519.20,398.40 L520.91,399.13 L522.62,399.88 L524.31,400.66 L525.99,401.47 L527.68,402.32 L530.34,403.67 L533.03,405.04 L535.71,406.41 L538.40,407.78 L541.08,409.15 L543.77,410.52 L546.46,411.88 L549.14,413.25 L551.83,414.62 L554.51,415.99 L557.20,417.36 L559.89,418.73 L562.57,420.10 L565.26,421.46 L567.94,422.83 L570.63,424.20 L573.32,425.57 L576.00,426.94 L578.69,428.31 L581.37,429.68 L584.06,431.04 L586.75,432.41 L589.43,433.78 L592.12,435.15 L594.80,436.52 L597.49,437.89 L600.18,439.26 L602.86,440.62 L605.55,441.99 L608.23,443.36 L610.92,444.73 L613.61,446.10 L616.29,447.47 L618.98,448.84 L621.66,450.20 L624.35,451.57 L627.04,452.94 L629.72,454.31 L632.41,455.68 L635.09,457.05" stroke="#c6c8b3" stroke-width="1.85" fill="none"/>
<path d="M146.67,458.16 L149.36,456.79 L152.05,455.42 L154.73,454.06 L157.42,452.69 L160.10,451.32 L162.79,449.95 L165.48,448.58 L168.16,447.21 L170.85,445.84 L173.53,444.48 L176.22,443.11 L178.91,441.74 L181.59,440.37 L184.28,439.00 L186.96,437.63 L189.65,436.26 L192.34,434.90 L195.02,433.53 L197.71,432.16 L200.39,430.79 L203.08,429.42 L205.77,428.05 L208.45,426.68 L211.14,425.32 L213.82,423.95 L216.51,422.58 L219.20,421.21 L221.88,419.84 L224.57,418.47 L227.25,417.10 L229.94,415.74 L232.63,414.37 L235.31,413.00 L238.00,411.63 L240.68,410.26 L243.37,408.89 L246.05,407.52 L248.74,406.16 L251.43,404.79 L254.08,403.43 L255.76,402.59 L257.42,401.80 L259.10,401.02 L260.78,400.28 L262.48,399.56 L264.19,398.87 L265.91,398.20 L267.64,397.56 L269.38,396.95 L271.13,396.37 L272.89,395.81 L274.65,395.29 L276.43,394.79 L278.21,394.31 L280.00,393.87 L281.80,393.45 L283.60,393.06 L285.41,392.70 L287.22,392.37 L289.04,392.07 L290.86,391.80 L292.69,391.55 L294.52,391.33 L296.35,391.15 L298.19,390.99 L300.03,390.86 L301.87,390.76 L303.71,390.68 L305.56,390.64 L307.42,390.62 L315.72,390.62 L324.04,390.62 L332.36,390.62 L340.68,390.62 L349.00,390.62 L357.32,390.62 L365.64,390.62 L373.96,390.62 L382.28,390.62 L390.60,390.62 L398.92,390.62 L407.24,390.62 L415.56,390.62 L423.88,390.62 L432.20,390.62 L440.52,390.62 L448.84,390.62 L457.16,390.62 L465.48,390.62 L473.78,390.62 L475.64,390.64 L477.49,390.68 L479.33,390.76 L481.17,390.86 L483.01,390.99 L484.85,391.15 L486.68,391.33 L488.51,391.55 L490.34,391.80 L492.16,392.07 L493.98,392.37 L495.79,392.70 L497.60,393.06 L499.40,393.45 L501.20,393.87 L502.99,394.31 L504.77,394.79 L506.55,395.29 L508.31,395.81 L510.07,396.37 L511.82,396.95 L513.56,397.56 L515.29,398.20 L517.01,398.87 L518.72,399.56 L520.42,400.28 L522.10,401.02 L523.78,401.80 L525.44,402.59 L527.12,403.43 L529.77,404.79 L532.46,406.16 L535.15,407.52 L537.83,408.89 L540.52,410.26 L543.20,411.63 L545.89,413.00 L548.57,414.37 L551.26,415.74 L553.95,417.10 L556.63,418.47 L559.32,419.84 L562.00,421.21 L564.69,422.58 L567.38,423.95 L570.06,425.32 L572.75,426.68 L575.43,428.05 L578.12,429.42 L580.81,430.79 L583.49,432.16 L586.18,433.53 L588.86,434.90 L591.55,436.26 L594.24,437.63 L596.92,439.00 L599.61,440.37 L602.29,441.74 L604.98,443.11 L607.67,444.48 L610.35,445.84 L613.04,447.21 L615.72,448.58 L618.41,449.95 L621.10,451.32 L623.78,452.69 L626.47,454.06 L629.15,455.42 L631.84,456.79 L634.53,458.16" stroke="#c4c6b1" stroke-width="1.85" fill="none"/>
<path d="M147.24,459.27 L149.93,457.91 L152.61,456.54 L155.30,455.17 L157.99,453.80 L160.67,452.43 L163.36,451.06 L166.04,449.69 L168.73,448.33 L171.41,446.96 L174.10,445.59 L176.79,444.22 L179.47,442.85 L182.16,441.48 L184.84,440.11 L187.53,438.75 L190.22,437.38 L192.90,436.01 L195.59,434.64 L198.27,433.27 L200.96,431.90 L203.65,430.53 L206.33,429.17 L209.02,427.80 L211.70,426.43 L214.39,425.06 L217.08,423.69 L219.76,422.32 L222.45,420.95 L225.13,419.59 L227.82,418.22 L230.51,416.85 L233.19,415.48 L235.88,414.11 L238.56,412.74 L241.25,411.37 L243.94,410.01 L246.62,408.64 L249.31,407.27 L251.99,405.90 L254.65,404.55 L256.31,403.72 L257.96,402.93 L259.61,402.16 L261.28,401.43 L262.96,400.71 L264.65,400.03 L266.35,399.37 L268.06,398.74 L269.79,398.14 L271.52,397.56 L273.25,397.01 L275.00,396.49 L276.76,395.99 L278.52,395.52 L280.29,395.08 L282.07,394.67 L283.85,394.29 L285.64,393.93 L287.43,393.60 L289.23,393.30 L291.04,393.03 L292.85,392.79 L294.66,392.58 L296.47,392.39 L298.29,392.23 L300.11,392.10 L301.93,392.00 L303.75,391.93 L305.58,391.89 L307.42,391.87 L315.72,391.88 L324.04,391.88 L332.36,391.88 L340.68,391.88 L349.00,391.88 L357.32,391.88 L365.64,391.88 L373.96,391.88 L382.28,391.88 L390.60,391.88 L398.92,391.88 L407.24,391.88 L415.56,391.88 L423.88,391.88 L432.20,391.88 L440.52,391.88 L448.84,391.88 L457.16,391.88 L465.48,391.88 L473.78,391.87 L475.62,391.89 L477.45,391.93 L479.27,392.00 L481.09,392.10 L482.91,392.23 L484.73,392.39 L486.54,392.58 L488.35,392.79 L490.16,393.03 L491.97,393.30 L493.77,393.60 L495.56,393.93 L497.35,394.29 L499.13,394.67 L500.91,395.08 L502.68,395.52 L504.44,395.99 L506.20,396.49 L507.95,397.01 L509.68,397.56 L511.41,398.14 L513.14,398.74 L514.85,399.37 L516.55,400.03 L518.24,400.71 L519.92,401.43 L521.59,402.16 L523.24,402.93 L524.89,403.72 L526.55,404.55 L529.21,405.90 L531.89,407.27 L534.58,408.64 L537.26,410.01 L539.95,411.37 L542.64,412.74 L545.32,414.11 L548.01,415.48 L550.69,416.85 L553.38,418.22 L556.07,419.59 L558.75,420.95 L561.44,422.32 L564.12,423.69 L566.81,425.06 L569.50,426.43 L572.18,427.80 L574.87,429.17 L577.55,430.53 L580.24,431.90 L582.93,433.27 L585.61,434.64 L588.30,436.01 L590.98,437.38 L593.67,438.75 L596.36,440.11 L599.04,441.48 L601.73,442.85 L604.41,444.22 L607.10,445.59 L609.79,446.96 L612.47,448.33 L615.16,449.69 L617.84,451.06 L620.53,452.43 L623.21,453.80 L625.90,455.17 L628.59,456.54 L631.27,457.91 L633.96,459.27" stroke="#c3c5b0" stroke-width="1.85" fill="none"/>
<path d="M147.81,460.39 L150.49,459.02 L153.18,457.65 L155.87,456.28 L158.55,454.91 L161.24,453.55 L163.92,452.18 L166.61,450.81 L169.30,449.44 L171.98,448.07 L174.67,446.70 L177.35,445.33 L180.04,443.97 L182.73,442.60 L185.41,441.23 L188.10,439.86 L190.78,438.49 L193.47,437.12 L196.16,435.75 L198.84,434.39 L201.53,433.02 L204.21,431.65 L206.90,430.28 L209.59,428.91 L212.27,427.54 L214.96,426.17 L217.64,424.81 L220.33,423.44 L223.02,422.07 L225.70,420.70 L228.39,419.33 L231.07,417.96 L233.76,416.59 L236.45,415.23 L239.13,413.86 L241.82,412.49 L244.50,411.12 L247.19,409.75 L249.88,408.38 L252.56,407.01 L255.21,405.66 L256.86,404.84 L258.49,404.06 L260.13,403.30 L261.78,402.57 L263.44,401.87 L265.11,401.19 L266.79,400.54 L268.49,399.92 L270.19,399.32 L271.90,398.75 L273.62,398.20 L275.35,397.69 L277.09,397.20 L278.83,396.73 L280.58,396.30 L282.34,395.89 L284.10,395.51 L285.87,395.16 L287.65,394.84 L289.43,394.54 L291.21,394.27 L293.00,394.03 L294.79,393.82 L296.59,393.63 L298.39,393.48 L300.19,393.35 L301.99,393.25 L303.79,393.18 L305.60,393.14 L307.42,393.12 L315.72,393.12 L324.04,393.12 L332.36,393.12 L340.68,393.12 L349.00,393.12 L357.32,393.12 L365.64,393.12 L373.96,393.12 L382.28,393.12 L390.60,393.12 L398.92,393.12 L407.24,393.12 L415.56,393.12 L423.88,393.12 L432.20,393.12 L440.52,393.12 L448.84,393.12 L457.16,393.12 L465.48,393.12 L473.78,393.12 L475.60,393.14 L477.41,393.18 L479.21,393.25 L481.01,393.35 L482.81,393.48 L484.61,393.63 L486.41,393.82 L488.20,394.03 L489.99,394.27 L491.77,394.54 L493.55,394.84 L495.33,395.16 L497.10,395.51 L498.86,395.89 L500.62,396.30 L502.37,396.73 L504.11,397.20 L505.85,397.69 L507.58,398.20 L509.30,398.75 L511.01,399.32 L512.71,399.92 L514.41,400.54 L516.09,401.19 L517.76,401.87 L519.42,402.57 L521.07,403.30 L522.71,404.06 L524.34,404.84 L525.99,405.66 L528.64,407.01 L531.32,408.38 L534.01,409.75 L536.70,411.12 L539.38,412.49 L542.07,413.86 L544.75,415.23 L547.44,416.59 L550.13,417.96 L552.81,419.33 L555.50,420.70 L558.18,422.07 L560.87,423.44 L563.56,424.81 L566.24,426.17 L568.93,427.54 L571.61,428.91 L574.30,430.28 L576.99,431.65 L579.67,433.02 L582.36,434.39 L585.04,435.75 L587.73,437.12 L590.42,438.49 L593.10,439.86 L595.79,441.23 L598.47,442.60 L601.16,443.97 L603.85,445.33 L606.53,446.70 L609.22,448.07 L611.90,449.44 L614.59,450.81 L617.28,452.18 L619.96,453.55 L622.65,454.91 L625.33,456.28 L628.02,457.65 L630.71,459.02 L633.39,460.39" stroke="#c1c3ae" stroke-width="1.85" fill="none"/>
<path d="M148.38,461.50 L151.06,460.13 L153.75,458.77 L156.43,457.40 L159.12,456.03 L161.81,454.66 L164.49,453.29 L167.18,451.92 L169.86,450.55 L172.55,449.19 L175.24,447.82 L177.92,446.45 L180.61,445.08 L183.29,443.71 L185.98,442.34 L188.67,440.97 L191.35,439.61 L194.04,438.24 L196.72,436.87 L199.41,435.50 L202.10,434.13 L204.78,432.76 L207.47,431.39 L210.15,430.03 L212.84,428.66 L215.53,427.29 L218.21,425.92 L220.90,424.55 L223.58,423.18 L226.27,421.81 L228.96,420.45 L231.64,419.08 L234.33,417.71 L237.01,416.34 L239.70,414.97 L242.39,413.60 L245.07,412.23 L247.76,410.87 L250.44,409.50 L253.13,408.13 L255.78,406.78 L257.41,405.96 L259.02,405.19 L260.64,404.44 L262.27,403.72 L263.92,403.02 L265.57,402.35 L267.24,401.71 L268.91,401.09 L270.59,400.50 L272.29,399.94 L273.99,399.40 L275.70,398.89 L277.42,398.40 L279.14,397.94 L280.87,397.51 L282.61,397.11 L284.36,396.74 L286.11,396.39 L287.86,396.07 L289.63,395.77 L291.39,395.51 L293.16,395.27 L294.93,395.06 L296.71,394.88 L298.49,394.73 L300.27,394.60 L302.05,394.50 L303.83,394.43 L305.62,394.39 L307.42,394.37 L315.72,394.38 L324.04,394.38 L332.36,394.38 L340.68,394.38 L349.00,394.38 L357.32,394.38 L365.64,394.38 L373.96,394.38 L382.28,394.38 L390.60,394.38 L398.92,394.38 L407.24,394.38 L415.56,394.38 L423.88,394.38 L432.20,394.38 L440.52,394.38 L448.84,394.38 L457.16,394.38 L465.48,394.38 L473.78,394.37 L475.58,394.39 L477.37,394.43 L479.15,394.50 L480.93,394.60 L482.71,394.73 L484.49,394.88 L486.27,395.06 L488.04,395.27 L489.81,395.51 L491.57,395.77 L493.34,396.07 L495.09,396.39 L496.84,396.74 L498.59,397.11 L500.33,397.51 L502.06,397.94 L503.78,398.40 L505.50,398.89 L507.21,399.40 L508.91,399.94 L510.61,400.50 L512.29,401.09 L513.96,401.71 L515.63,402.35 L517.28,403.02 L518.93,403.72 L520.56,404.44 L522.18,405.19 L523.79,405.96 L525.42,406.78 L528.07,408.13 L530.76,409.50 L533.44,410.87 L536.13,412.23 L538.81,413.60 L541.50,414.97 L544.19,416.34 L546.87,417.71 L549.56,419.08 L552.24,420.45 L554.93,421.81 L557.62,423.18 L560.30,424.55 L562.99,425.92 L565.67,427.29 L568.36,428.66 L571.05,430.03 L573.73,431.39 L576.42,432.76 L579.10,434.13 L581.79,435.50 L584.48,436.87 L587.16,438.24 L589.85,439.61 L592.53,440.97 L595.22,442.34 L597.91,443.71 L600.59,445.08 L603.28,446.45 L605.96,447.82 L608.65,449.19 L611.34,450.55 L614.02,451.92 L616.71,453.29 L619.39,454.66 L622.08,456.03 L624.77,457.40 L627.45,458.77 L630.14,460.13 L632.82,461.50" stroke="#c0c2ad" stroke-width="1.85" fill="none"/>
<path d="M148.94,462.62 L151.63,461.25 L154.32,459.88 L157.00,458.51 L159.69,457.14 L162.37,455.77 L165.06,454.40 L167.75,453.04 L170.43,451.67 L173.12,450.30 L175.80,448.93 L178.49,447.56 L181.18,446.19 L183.86,444.82 L186.55,443.46 L189.23,442.09 L191.92,440.72 L194.61,439.35 L197.29,437.98 L199.98,436.61 L202.66,435.24 L205.35,433.88 L208.04,432.51 L210.72,431.14 L213.41,429.77 L216.09,428.40 L218.78,427.03 L221.47,425.66 L224.15,424.30 L226.84,422.93 L229.52,421.56 L232.21,420.19 L234.89,418.82 L237.58,417.45 L240.27,416.08 L242.95,414.72 L245.64,413.35 L248.32,411.98 L251.01,410.61 L253.70,409.24 L256.34,407.90 L257.96,407.08 L259.55,406.32 L261.16,405.58 L262.77,404.87 L264.40,404.18 L266.03,403.52 L267.68,402.88 L269.33,402.27 L271.00,401.68 L272.67,401.13 L274.36,400.59 L276.05,400.09 L277.75,399.61 L279.45,399.16 L281.17,398.73 L282.89,398.33 L284.61,397.96 L286.34,397.62 L288.08,397.30 L289.82,397.01 L291.57,396.75 L293.32,396.51 L295.07,396.30 L296.82,396.12 L298.58,395.97 L300.34,395.85 L302.11,395.75 L303.87,395.68 L305.63,395.64 L307.42,395.62 L315.72,395.62 L324.04,395.62 L332.36,395.62 L340.68,395.62 L349.00,395.62 L357.32,395.62 L365.64,395.62 L373.96,395.62 L382.28,395.62 L390.60,395.62 L398.92,395.62 L407.24,395.62 L415.56,395.62 L423.88,395.62 L432.20,395.62 L440.52,395.62 L448.84,395.62 L457.16,395.62 L465.48,395.62 L473.78,395.62 L475.57,395.64 L477.33,395.68 L479.09,395.75 L480.86,395.85 L482.62,395.97 L484.38,396.12 L486.13,396.30 L487.88,396.51 L489.63,396.75 L491.38,397.01 L493.12,397.30 L494.86,397.62 L496.59,397.96 L498.31,398.33 L500.03,398.73 L501.75,399.16 L503.45,399.61 L505.15,400.09 L506.84,400.59 L508.53,401.13 L510.20,401.68 L511.87,402.27 L513.52,402.88 L515.17,403.52 L516.80,404.18 L518.43,404.87 L520.04,405.58 L521.65,406.32 L523.24,407.08 L524.86,407.90 L527.50,409.24 L530.19,410.61 L532.88,411.98 L535.56,413.35 L538.25,414.72 L540.93,416.08 L543.62,417.45 L546.31,418.82 L548.99,420.19 L551.68,421.56 L554.36,422.93 L557.05,424.30 L559.73,425.66 L562.42,427.03 L565.11,428.40 L567.79,429.77 L570.48,431.14 L573.16,432.51 L575.85,433.88 L578.54,435.24 L581.22,436.61 L583.91,437.98 L586.59,439.35 L589.28,440.72 L591.97,442.09 L594.65,443.46 L597.34,444.82 L600.02,446.19 L602.71,447.56 L605.40,448.93 L608.08,450.30 L610.77,451.67 L613.45,453.04 L616.14,454.40 L618.83,455.77 L621.51,457.14 L624.20,458.51 L626.88,459.88 L629.57,461.25 L632.26,462.62" stroke="#bdbfaa" stroke-width="1.85" fill="none"/>
<path d="M149.51,463.73 L152.20,462.36 L154.88,460.99 L157.57,459.62 L160.26,458.26 L162.94,456.89 L165.63,455.52 L168.31,454.15 L171.00,452.78 L173.68,451.41 L176.37,450.04 L179.06,448.68 L181.74,447.31 L184.43,445.94 L187.11,444.57 L189.80,443.20 L192.49,441.83 L195.17,440.46 L197.86,439.10 L200.54,437.73 L203.23,436.36 L205.92,434.99 L208.60,433.62 L211.29,432.25 L213.97,430.88 L216.66,429.52 L219.35,428.15 L222.03,426.78 L224.72,425.41 L227.40,424.04 L230.09,422.67 L232.78,421.30 L235.46,419.94 L238.15,418.57 L240.83,417.20 L243.52,415.83 L246.21,414.46 L248.89,413.09 L251.58,411.72 L254.26,410.36 L256.90,409.01 L258.51,408.21 L260.09,407.45 L261.67,406.72 L263.27,406.01 L264.87,405.33 L266.49,404.68 L268.12,404.05 L269.76,403.44 L271.40,402.87 L273.06,402.31 L274.72,401.79 L276.40,401.29 L278.08,400.81 L279.76,400.37 L281.46,399.95 L283.16,399.55 L284.87,399.18 L286.58,398.84 L288.29,398.53 L290.02,398.24 L291.74,397.98 L293.47,397.75 L295.21,397.55 L296.94,397.37 L298.68,397.22 L300.42,397.09 L302.17,397.00 L303.91,396.93 L305.65,396.89 L307.43,396.87 L315.72,396.88 L324.04,396.88 L332.36,396.88 L340.68,396.88 L349.00,396.88 L357.32,396.88 L365.64,396.88 L373.96,396.88 L382.28,396.88 L390.60,396.88 L398.92,396.88 L407.24,396.88 L415.56,396.88 L423.88,396.88 L432.20,396.88 L440.52,396.88 L448.84,396.88 L457.16,396.88 L465.48,396.88 L473.77,396.87 L475.55,396.89 L477.29,396.93 L479.03,397.00 L480.78,397.09 L482.52,397.22 L484.26,397.37 L485.99,397.55 L487.73,397.75 L489.46,397.98 L491.18,398.24 L492.91,398.53 L494.62,398.84 L496.33,399.18 L498.04,399.55 L499.74,399.95 L501.44,400.37 L503.12,400.81 L504.80,401.29 L506.48,401.79 L508.14,402.31 L509.80,402.87 L511.44,403.44 L513.08,404.05 L514.71,404.68 L516.33,405.33 L517.93,406.01 L519.53,406.72 L521.11,407.45 L522.69,408.21 L524.30,409.01 L526.94,410.36 L529.62,411.72 L532.31,413.09 L534.99,414.46 L537.68,415.83 L540.37,417.20 L543.05,418.57 L545.74,419.94 L548.42,421.30 L551.11,422.67 L553.80,424.04 L556.48,425.41 L559.17,426.78 L561.85,428.15 L564.54,429.52 L567.23,430.88 L569.91,432.25 L572.60,433.62 L575.28,434.99 L577.97,436.36 L580.66,437.73 L583.34,439.10 L586.03,440.46 L588.71,441.83 L591.40,443.20 L594.09,444.57 L596.77,445.94 L599.46,447.31 L602.14,448.68 L604.83,450.04 L607.52,451.41 L610.20,452.78 L612.89,454.15 L615.57,455.52 L618.26,456.89 L620.94,458.26 L623.63,459.62 L626.32,460.99 L629.00,462.36 L631.69,463.73" stroke="#babca8" stroke-width="1.85" fill="none"/>
<path d="M150.08,464.84 L152.76,463.48 L155.45,462.11 L158.14,460.74 L160.82,459.37 L163.51,458.00 L166.19,456.63 L168.88,455.26 L171.57,453.90 L174.25,452.53 L176.94,451.16 L179.62,449.79 L182.31,448.42 L185.00,447.05 L187.68,445.68 L190.37,444.32 L193.05,442.95 L195.74,441.58 L198.43,440.21 L201.11,438.84 L203.80,437.47 L206.48,436.10 L209.17,434.74 L211.86,433.37 L214.54,432.00 L217.23,430.63 L219.91,429.26 L222.60,427.89 L225.29,426.52 L227.97,425.15 L230.66,423.79 L233.34,422.42 L236.03,421.05 L238.72,419.68 L241.40,418.31 L244.09,416.94 L246.77,415.57 L249.46,414.21 L252.15,412.84 L254.83,411.47 L257.47,410.13 L259.06,409.33 L260.62,408.58 L262.18,407.86 L263.76,407.16 L265.35,406.49 L266.95,405.84 L268.56,405.22 L270.18,404.62 L271.81,404.05 L273.45,403.50 L275.09,402.98 L276.75,402.49 L278.41,402.02 L280.08,401.58 L281.75,401.16 L283.43,400.77 L285.12,400.41 L286.81,400.07 L288.51,399.76 L290.21,399.48 L291.92,399.22 L293.63,398.99 L295.34,398.79 L297.06,398.61 L298.78,398.46 L300.50,398.34 L302.22,398.25 L303.95,398.18 L305.67,398.14 L307.43,398.12 L315.72,398.12 L324.04,398.12 L332.36,398.12 L340.68,398.12 L349.00,398.12 L357.32,398.12 L365.64,398.12 L373.96,398.12 L382.28,398.12 L390.60,398.12 L398.92,398.12 L407.24,398.12 L415.56,398.12 L423.88,398.12 L432.20,398.12 L440.52,398.12 L448.84,398.12 L457.16,398.12 L465.48,398.12 L473.77,398.12 L475.53,398.14 L477.25,398.18 L478.98,398.25 L480.70,398.34 L482.42,398.46 L484.14,398.61 L485.86,398.79 L487.57,398.99 L489.28,399.22 L490.99,399.48 L492.69,399.76 L494.39,400.07 L496.08,400.41 L497.77,400.77 L499.45,401.16 L501.12,401.58 L502.79,402.02 L504.45,402.49 L506.11,402.98 L507.75,403.50 L509.39,404.05 L511.02,404.62 L512.64,405.22 L514.25,405.84 L515.85,406.49 L517.44,407.16 L519.02,407.86 L520.58,408.58 L522.14,409.33 L523.73,410.13 L526.37,411.47 L529.05,412.84 L531.74,414.21 L534.43,415.57 L537.11,416.94 L539.80,418.31 L542.48,419.68 L545.17,421.05 L547.86,422.42 L550.54,423.79 L553.23,425.15 L555.91,426.52 L558.60,427.89 L561.29,429.26 L563.97,430.63 L566.66,432.00 L569.34,433.37 L572.03,434.74 L574.72,436.10 L577.40,437.47 L580.09,438.84 L582.77,440.21 L585.46,441.58 L588.15,442.95 L590.83,444.32 L593.52,445.68 L596.20,447.05 L598.89,448.42 L601.58,449.79 L604.26,451.16 L606.95,452.53 L609.63,453.90 L612.32,455.26 L615.01,456.63 L617.69,458.00 L620.38,459.37 L623.06,460.74 L625.75,462.11 L628.44,463.48 L631.12,464.84" stroke="#b7b9a4" stroke-width="1.85" fill="none"/>
<path d="M150.65,465.96 L153.33,464.59 L156.02,463.22 L158.70,461.85 L161.39,460.48 L164.08,459.11 L166.76,457.75 L169.45,456.38 L172.13,455.01 L174.82,453.64 L177.51,452.27 L180.19,450.90 L182.88,449.53 L185.56,448.17 L188.25,446.80 L190.94,445.43 L193.62,444.06 L196.31,442.69 L198.99,441.32 L201.68,439.95 L204.37,438.59 L207.05,437.22 L209.74,435.85 L212.42,434.48 L215.11,433.11 L217.80,431.74 L220.48,430.37 L223.17,429.01 L225.85,427.64 L228.54,426.27 L231.23,424.90 L233.91,423.53 L236.60,422.16 L239.28,420.79 L241.97,419.43 L244.66,418.06 L247.34,416.69 L250.03,415.32 L252.71,413.95 L255.40,412.58 L258.03,411.24 L259.61,410.45 L261.15,409.71 L262.70,409.00 L264.26,408.31 L265.83,407.64 L267.41,407.00 L269.00,406.39 L270.60,405.80 L272.21,405.23 L273.83,404.69 L275.46,404.18 L277.09,403.69 L278.74,403.22 L280.39,402.79 L282.04,402.38 L283.70,401.99 L285.37,401.63 L287.05,401.30 L288.72,400.99 L290.41,400.71 L292.09,400.46 L293.79,400.23 L295.48,400.03 L297.18,399.86 L298.88,399.71 L300.58,399.59 L302.28,399.50 L303.99,399.43 L305.69,399.39 L307.43,399.37 L315.72,399.38 L324.04,399.38 L332.36,399.38 L340.68,399.38 L349.00,399.38 L357.32,399.38 L365.64,399.38 L373.96,399.38 L382.28,399.38 L390.60,399.38 L398.92,399.38 L407.24,399.38 L415.56,399.38 L423.88,399.38 L432.20,399.38 L440.52,399.38 L448.84,399.38 L457.16,399.38 L465.48,399.38 L473.77,399.37 L475.51,399.39 L477.21,399.43 L478.92,399.50 L480.62,399.59 L482.32,399.71 L484.02,399.86 L485.72,400.03 L487.41,400.23 L489.11,400.46 L490.79,400.71 L492.48,400.99 L494.15,401.30 L495.83,401.63 L497.50,401.99 L499.16,402.38 L500.81,402.79 L502.46,403.22 L504.11,403.69 L505.74,404.18 L507.37,404.69 L508.99,405.23 L510.60,405.80 L512.20,406.39 L513.79,407.00 L515.37,407.64 L516.94,408.31 L518.50,409.00 L520.05,409.71 L521.59,410.45 L523.17,411.24 L525.80,412.58 L528.49,413.95 L531.17,415.32 L533.86,416.69 L536.54,418.06 L539.23,419.43 L541.92,420.79 L544.60,422.16 L547.29,423.53 L549.97,424.90 L552.66,426.27 L555.35,427.64 L558.03,429.01 L560.72,430.37 L563.40,431.74 L566.09,433.11 L568.78,434.48 L571.46,435.85 L574.15,437.22 L576.83,438.59 L579.52,439.95 L582.21,441.32 L584.89,442.69 L587.58,444.06 L590.26,445.43 L592.95,446.80 L595.64,448.17 L598.32,449.53 L601.01,450.90 L603.69,452.27 L606.38,453.64 L609.07,455.01 L611.75,456.38 L614.44,457.75 L617.12,459.11 L619.81,460.48 L622.50,461.85 L625.18,463.22 L627.87,464.59 L630.55,465.96" stroke="#b4b6a2" stroke-width="1.85" fill="none"/>
<path d="M151.21,467.07 L153.90,465.70 L156.59,464.33 L159.27,462.97 L161.96,461.60 L164.64,460.23 L167.33,458.86 L170.02,457.49 L172.70,456.12 L175.39,454.75 L178.07,453.39 L180.76,452.02 L183.45,450.65 L186.13,449.28 L188.82,447.91 L191.50,446.54 L194.19,445.17 L196.88,443.81 L199.56,442.44 L202.25,441.07 L204.93,439.70 L207.62,438.33 L210.31,436.96 L212.99,435.59 L215.68,434.23 L218.36,432.86 L221.05,431.49 L223.74,430.12 L226.42,428.75 L229.11,427.38 L231.79,426.01 L234.48,424.65 L237.16,423.28 L239.85,421.91 L242.54,420.54 L245.22,419.17 L247.91,417.80 L250.59,416.43 L253.28,415.07 L255.97,413.70 L258.59,412.36 L260.16,411.57 L261.68,410.84 L263.21,410.14 L264.76,409.46 L266.31,408.80 L267.87,408.17 L269.45,407.56 L271.03,406.97 L272.62,406.41 L274.22,405.88 L275.83,405.37 L277.44,404.89 L279.07,404.43 L280.70,404.00 L282.33,403.59 L283.98,403.21 L285.63,402.86 L287.28,402.53 L288.94,402.22 L290.60,401.95 L292.27,401.70 L293.94,401.47 L295.62,401.27 L297.30,401.10 L298.98,400.96 L300.66,400.84 L302.34,400.74 L304.03,400.68 L305.71,400.64 L307.43,400.62 L315.72,400.62 L324.04,400.62 L332.36,400.62 L340.68,400.62 L349.00,400.62 L357.32,400.62 L365.64,400.62 L373.96,400.62 L382.28,400.62 L390.60,400.62 L398.92,400.62 L407.24,400.62 L415.56,400.62 L423.88,400.62 L432.20,400.62 L440.52,400.62 L448.84,400.62 L457.16,400.62 L465.48,400.62 L473.77,400.62 L475.49,400.64 L477.17,400.68 L478.86,400.74 L480.54,400.84 L482.22,400.96 L483.90,401.10 L485.58,401.27 L487.26,401.47 L488.93,401.70 L490.60,401.95 L492.26,402.22 L493.92,402.53 L495.57,402.86 L497.22,403.21 L498.87,403.59 L500.50,404.00 L502.13,404.43 L503.76,404.89 L505.37,405.37 L506.98,405.88 L508.58,406.41 L510.17,406.97 L511.75,407.56 L513.33,408.17 L514.89,408.80 L516.44,409.46 L517.99,410.14 L519.52,410.84 L521.04,411.57 L522.61,412.36 L525.23,413.70 L527.92,415.07 L530.61,416.43 L533.29,417.80 L535.98,419.17 L538.66,420.54 L541.35,421.91 L544.04,423.28 L546.72,424.65 L549.41,426.01 L552.09,427.38 L554.78,428.75 L557.46,430.12 L560.15,431.49 L562.84,432.86 L565.52,434.23 L568.21,435.59 L570.89,436.96 L573.58,438.33 L576.27,439.70 L578.95,441.07 L581.64,442.44 L584.32,443.81 L587.01,445.17 L589.70,446.54 L592.38,447.91 L595.07,449.28 L597.75,450.65 L600.44,452.02 L603.13,453.39 L605.81,454.75 L608.50,456.12 L611.18,457.49 L613.87,458.86 L616.56,460.23 L619.24,461.60 L621.93,462.97 L624.61,464.33 L627.30,465.70 L629.99,467.07" stroke="#afb19d" stroke-width="1.85" fill="none"/>
<path d="M151.78,468.18 L154.47,466.82 L157.15,465.45 L159.84,464.08 L162.52,462.71 L165.21,461.34 L167.90,459.97 L170.58,458.60 L173.27,457.24 L175.95,455.87 L178.64,454.50 L181.33,453.13 L184.01,451.76 L186.70,450.39 L189.38,449.02 L192.07,447.66 L194.76,446.29 L197.44,444.92 L200.13,443.55 L202.81,442.18 L205.50,440.81 L208.19,439.44 L210.87,438.08 L213.56,436.71 L216.24,435.34 L218.93,433.97 L221.62,432.60 L224.30,431.23 L226.99,429.86 L229.67,428.50 L232.36,427.13 L235.05,425.76 L237.73,424.39 L240.42,423.02 L243.10,421.65 L245.79,420.28 L248.48,418.92 L251.16,417.55 L253.85,416.18 L256.53,414.81 L259.16,413.47 L260.71,412.70 L262.21,411.98 L263.73,411.28 L265.25,410.60 L266.79,409.95 L268.33,409.33 L269.89,408.73 L271.45,408.15 L273.02,407.60 L274.61,407.07 L276.19,406.57 L277.79,406.09 L279.40,405.64 L281.01,405.21 L282.63,404.81 L284.25,404.43 L285.88,404.08 L287.51,403.75 L289.15,403.46 L290.80,403.18 L292.45,402.93 L294.10,402.71 L295.75,402.52 L297.41,402.35 L299.07,402.20 L300.74,402.08 L302.40,401.99 L304.07,401.93 L305.73,401.89 L307.43,401.87 L315.72,401.88 L324.04,401.88 L332.36,401.88 L340.68,401.88 L349.00,401.88 L357.32,401.88 L365.64,401.88 L373.96,401.88 L382.28,401.88 L390.60,401.88 L398.92,401.88 L407.24,401.88 L415.56,401.88 L423.88,401.88 L432.20,401.88 L440.52,401.88 L448.84,401.88 L457.16,401.88 L465.48,401.88 L473.77,401.87 L475.47,401.89 L477.13,401.93 L478.80,401.99 L480.46,402.08 L482.13,402.20 L483.79,402.35 L485.45,402.52 L487.10,402.71 L488.75,402.93 L490.40,403.18 L492.05,403.46 L493.69,403.75 L495.32,404.08 L496.95,404.43 L498.57,404.81 L500.19,405.21 L501.80,405.64 L503.41,406.09 L505.01,406.57 L506.59,407.07 L508.18,407.60 L509.75,408.15 L511.31,408.73 L512.87,409.33 L514.41,409.95 L515.95,410.60 L517.47,411.28 L518.99,411.98 L520.49,412.70 L522.04,413.47 L524.67,414.81 L527.35,416.18 L530.04,417.55 L532.72,418.92 L535.41,420.28 L538.10,421.65 L540.78,423.02 L543.47,424.39 L546.15,425.76 L548.84,427.13 L551.53,428.50 L554.21,429.86 L556.90,431.23 L559.58,432.60 L562.27,433.97 L564.96,435.34 L567.64,436.71 L570.33,438.08 L573.01,439.44 L575.70,440.81 L578.39,442.18 L581.07,443.55 L583.76,444.92 L586.44,446.29 L589.13,447.66 L591.82,449.02 L594.50,450.39 L597.19,451.76 L599.87,453.13 L602.56,454.50 L605.25,455.87 L607.93,457.24 L610.62,458.60 L613.30,459.97 L615.99,461.34 L618.68,462.71 L621.36,464.08 L624.05,465.45 L626.73,466.82 L629.42,468.18" stroke="#a8aa97" stroke-width="1.85" fill="none"/>
<path d="M152.35,469.30 L155.03,467.93 L157.72,466.56 L160.41,465.19 L163.09,463.82 L165.78,462.46 L168.46,461.09 L171.15,459.72 L173.84,458.35 L176.52,456.98 L179.21,455.61 L181.89,454.24 L184.58,452.88 L187.27,451.51 L189.95,450.14 L192.64,448.77 L195.32,447.40 L198.01,446.03 L200.70,444.66 L203.38,443.30 L206.07,441.93 L208.75,440.56 L211.44,439.19 L214.13,437.82 L216.81,436.45 L219.50,435.08 L222.18,433.72 L224.87,432.35 L227.56,430.98 L230.24,429.61 L232.93,428.24 L235.61,426.87 L238.30,425.50 L240.99,424.14 L243.67,422.77 L246.36,421.40 L249.04,420.03 L251.73,418.66 L254.42,417.29 L257.10,415.92 L259.72,414.59 L261.26,413.82 L262.75,413.11 L264.24,412.42 L265.75,411.75 L267.27,411.11 L268.79,410.49 L270.33,409.90 L271.87,409.33 L273.43,408.78 L274.99,408.26 L276.56,407.76 L278.14,407.29 L279.73,406.84 L281.32,406.42 L282.92,406.02 L284.52,405.65 L286.13,405.30 L287.75,404.98 L289.37,404.69 L290.99,404.42 L292.62,404.17 L294.26,403.95 L295.89,403.76 L297.53,403.59 L299.17,403.45 L300.81,403.33 L302.46,403.24 L304.11,403.18 L305.75,403.14 L307.44,403.12 L315.72,403.12 L324.04,403.12 L332.36,403.12 L340.68,403.12 L349.00,403.12 L357.32,403.12 L365.64,403.12 L373.96,403.12 L382.28,403.12 L390.60,403.12 L398.92,403.12 L407.24,403.12 L415.56,403.12 L423.88,403.12 L432.20,403.12 L440.52,403.12 L448.84,403.12 L457.16,403.12 L465.48,403.12 L473.76,403.12 L475.45,403.14 L477.09,403.18 L478.74,403.24 L480.39,403.33 L482.03,403.45 L483.67,403.59 L485.31,403.76 L486.94,403.95 L488.58,404.17 L490.21,404.42 L491.83,404.69 L493.45,404.98 L495.07,405.30 L496.68,405.65 L498.28,406.02 L499.88,406.42 L501.47,406.84 L503.06,407.29 L504.64,407.76 L506.21,408.26 L507.77,408.78 L509.33,409.33 L510.87,409.90 L512.41,410.49 L513.93,411.11 L515.45,411.75 L516.96,412.42 L518.45,413.11 L519.94,413.82 L521.48,414.59 L524.10,415.92 L526.78,417.29 L529.47,418.66 L532.16,420.03 L534.84,421.40 L537.53,422.77 L540.21,424.14 L542.90,425.50 L545.59,426.87 L548.27,428.24 L550.96,429.61 L553.64,430.98 L556.33,432.35 L559.02,433.72 L561.70,435.08 L564.39,436.45 L567.07,437.82 L569.76,439.19 L572.45,440.56 L575.13,441.93 L577.82,443.30 L580.50,444.66 L583.19,446.03 L585.88,447.40 L588.56,448.77 L591.25,450.14 L593.93,451.51 L596.62,452.88 L599.31,454.24 L601.99,455.61 L604.68,456.98 L607.36,458.35 L610.05,459.72 L612.74,461.09 L615.42,462.46 L618.11,463.82 L620.79,465.19 L623.48,466.56 L626.17,467.93 L628.85,469.30" stroke="#a2a492" stroke-width="1.85" fill="none"/>
<path d="M152.92,470.41 L155.60,469.04 L158.29,467.68 L160.97,466.31 L163.66,464.94 L166.35,463.57 L169.03,462.20 L171.72,460.83 L174.40,459.46 L177.09,458.10 L179.78,456.73 L182.46,455.36 L185.15,453.99 L187.83,452.62 L190.52,451.25 L193.21,449.88 L195.89,448.52 L198.58,447.15 L201.26,445.78 L203.95,444.41 L206.64,443.04 L209.32,441.67 L212.01,440.30 L214.69,438.94 L217.38,437.57 L220.07,436.20 L222.75,434.83 L225.44,433.46 L228.12,432.09 L230.81,430.72 L233.50,429.36 L236.18,427.99 L238.87,426.62 L241.55,425.25 L244.24,423.88 L246.93,422.51 L249.61,421.14 L252.30,419.78 L254.98,418.41 L257.67,417.04 L260.29,415.70 L261.81,414.94 L263.28,414.24 L264.76,413.56 L266.25,412.90 L267.74,412.26 L269.25,411.65 L270.77,411.06 L272.30,410.50 L273.83,409.96 L275.38,409.45 L276.93,408.96 L278.49,408.49 L280.06,408.05 L281.63,407.63 L283.21,407.24 L284.79,406.87 L286.39,406.53 L287.98,406.21 L289.58,405.92 L291.19,405.65 L292.80,405.41 L294.41,405.19 L296.03,405.00 L297.65,404.83 L299.27,404.69 L300.89,404.58 L302.52,404.49 L304.15,404.43 L305.77,404.39 L307.44,404.37 L315.72,404.38 L324.04,404.38 L332.36,404.38 L340.68,404.38 L349.00,404.38 L357.32,404.38 L365.64,404.38 L373.96,404.38 L382.28,404.38 L390.60,404.38 L398.92,404.38 L407.24,404.38 L415.56,404.38 L423.88,404.38 L432.20,404.38 L440.52,404.38 L448.84,404.38 L457.16,404.38 L465.48,404.38 L473.76,404.37 L475.43,404.39 L477.05,404.43 L478.68,404.49 L480.31,404.58 L481.93,404.69 L483.55,404.83 L485.17,405.00 L486.79,405.19 L488.40,405.41 L490.01,405.65 L491.62,405.92 L493.22,406.21 L494.81,406.53 L496.41,406.87 L497.99,407.24 L499.57,407.63 L501.14,408.05 L502.71,408.49 L504.27,408.96 L505.82,409.45 L507.37,409.96 L508.90,410.50 L510.43,411.06 L511.95,411.65 L513.46,412.26 L514.95,412.90 L516.44,413.56 L517.92,414.24 L519.39,414.94 L520.91,415.70 L523.53,417.04 L526.22,418.41 L528.90,419.78 L531.59,421.14 L534.27,422.51 L536.96,423.88 L539.65,425.25 L542.33,426.62 L545.02,427.99 L547.70,429.36 L550.39,430.72 L553.08,432.09 L555.76,433.46 L558.45,434.83 L561.13,436.20 L563.82,437.57 L566.51,438.94 L569.19,440.30 L571.88,441.67 L574.56,443.04 L577.25,444.41 L579.94,445.78 L582.62,447.15 L585.31,448.52 L587.99,449.88 L590.68,451.25 L593.37,452.62 L596.05,453.99 L598.74,455.36 L601.42,456.73 L604.11,458.10 L606.80,459.46 L609.48,460.83 L612.17,462.20 L614.85,463.57 L617.54,464.94 L620.23,466.31 L622.91,467.68 L625.60,469.04 L628.28,470.41" stroke="#929485" stroke-width="1.85" fill="none"/>
</g>
<path d="M130.50,426.70 L147.20,458.70 L175.50,460.20" stroke="#2f322b" stroke-width="1.4" fill="none" stroke-linejoin="round"/>
<path d="M650.70,426.70 L634.00,458.70 L605.70,460.20" stroke="#2f322b" stroke-width="1.4" fill="none" stroke-linejoin="round"/>
<line x1="307.5" y1="355.2" x2="307.5" y2="404.8" stroke="#2b2e27" stroke-width="1.2"/>
<line x1="473.7" y1="355.2" x2="473.7" y2="404.8" stroke="#2b2e27" stroke-width="1.2"/>
<line x1="238.6" y1="372.2" x2="261.3" y2="416.8" stroke="#2b2e27" stroke-width="1.2"/>
<line x1="542.6" y1="372.2" x2="519.9" y2="416.8" stroke="#2b2e27" stroke-width="1.2"/>
<g transform="translate(129.5,435) rotate(-27)"><rect x="-5.5" y="-2.6" width="11" height="5.2" rx="2.6" fill="#d6d8ca" stroke="#2e3129" stroke-width="1"/></g><g transform="translate(150.2,416.3) rotate(-27)"><rect x="-8" y="-1.3" width="16" height="2.6" rx="1.3" fill="#2a2d28"/></g><g transform="translate(194,451.3) rotate(-27)"><rect x="-7" y="-1.3" width="14" height="2.6" rx="1.3" fill="#2a2d28"/></g>
<g transform="translate(781.2,0) scale(-1,1)"><g transform="translate(129.5,435) rotate(-27)"><rect x="-5.5" y="-2.6" width="11" height="5.2" rx="2.6" fill="#d6d8ca" stroke="#2e3129" stroke-width="1"/></g><g transform="translate(150.2,416.3) rotate(-27)"><rect x="-8" y="-1.3" width="16" height="2.6" rx="1.3" fill="#2a2d28"/></g><g transform="translate(194,451.3) rotate(-27)"><rect x="-7" y="-1.3" width="14" height="2.6" rx="1.3" fill="#2a2d28"/></g></g>
</g>
<path d="M365.20,184.00 L364.00,190.00 L362.50,200.00 L359.50,210.00 L356.50,220.00 L352.25,240.00 L346.75,260.00 L340.00,280.00 L334.50,300.00 L329.00,320.00 L324.20,337.00" stroke="#24271f" stroke-width="12" fill="none" stroke-linejoin="round"/>
<path d="M365.20,184.00 L364.00,190.00 L362.50,200.00 L359.50,210.00 L356.50,220.00 L352.25,240.00 L346.75,260.00 L340.00,280.00 L334.50,300.00 L329.00,320.00 L324.20,337.00" stroke="#cbcebc" stroke-width="9.2" fill="none" stroke-linejoin="round"/>
<path d="M367.75,184.51 L366.56,190.43 L365.04,200.57 L361.99,210.75 L359.03,220.61 L354.78,240.62 L349.24,260.76 L342.49,280.76 L337.01,300.69 L331.50,320.70 L326.70,337.71" stroke="#b9beae" stroke-width="3.6" fill="none" stroke-linejoin="round"/>
<path d="M362.85,183.53 L361.63,189.60 L360.16,199.47 L357.20,209.31 L354.17,219.44 L349.92,239.43 L344.46,259.30 L337.71,279.30 L332.19,299.36 L326.69,319.36 L321.89,336.35" stroke="#d9dccb" stroke-width="2.6" fill="none" stroke-linejoin="round"/>
<path d="M365.00,183.96 L363.80,189.97 L362.30,199.96 L359.31,209.94 L356.31,219.95 L352.06,239.95 L346.56,259.94 L339.81,279.94 L334.31,299.95 L328.81,319.95 L324.01,336.95" stroke="#33362e" stroke-width="0.9" fill="none" stroke-linejoin="round"/>
<path d="M417.60,184.00 L418.80,190.00 L420.30,200.00 L423.30,210.00 L426.30,220.00 L430.55,240.00 L436.05,260.00 L442.80,280.00 L448.30,300.00 L453.80,320.00 L458.60,337.00" stroke="#24271f" stroke-width="12" fill="none" stroke-linejoin="round"/>
<path d="M417.60,184.00 L418.80,190.00 L420.30,200.00 L423.30,210.00 L426.30,220.00 L430.55,240.00 L436.05,260.00 L442.80,280.00 L448.30,300.00 L453.80,320.00 L458.60,337.00" stroke="#cbcebc" stroke-width="9.2" fill="none" stroke-linejoin="round"/>
<path d="M420.15,183.49 L421.36,189.57 L422.84,199.43 L425.79,209.25 L428.83,219.39 L433.08,239.38 L438.54,259.24 L445.29,279.24 L450.81,299.31 L456.30,319.30 L461.10,336.29" stroke="#b9beae" stroke-width="3.6" fill="none" stroke-linejoin="round"/>
<path d="M415.25,184.47 L416.43,190.40 L417.96,200.53 L421.00,210.69 L423.97,220.56 L428.22,240.57 L433.76,260.70 L440.51,280.70 L445.99,300.64 L451.49,320.64 L456.29,337.65" stroke="#d9dccb" stroke-width="2.6" fill="none" stroke-linejoin="round"/>
<path d="M417.40,184.04 L418.60,190.03 L420.10,200.04 L423.11,210.06 L426.11,220.05 L430.36,240.05 L435.86,260.06 L442.61,280.06 L448.11,300.05 L453.61,320.05 L458.41,337.05" stroke="#33362e" stroke-width="0.9" fill="none" stroke-linejoin="round"/>
<path d="M317.8,336 L317.8,368.5 Q317.8,370.6 319.8,370.6 L327.6,370.6 Q329.6,370.6 329.6,368.5 L329.6,336 Z" fill="#d2d5c3" stroke="#2a2d26" stroke-width="1.3"/><line x1="317.8" y1="339.5" x2="329.6" y2="339.5" stroke="#3a3d35" stroke-width="0.8"/>
<path d="M453.2,336 L453.2,368.5 Q453.2,370.6 455.2,370.6 L463.0,370.6 Q465.0,370.6 465.0,368.5 L465.0,336 Z" fill="#d2d5c3" stroke="#2a2d26" stroke-width="1.3"/><line x1="453.2" y1="339.5" x2="465.0" y2="339.5" stroke="#3a3d35" stroke-width="0.8"/>
<path d="M372.2,226 L372.2,150.3 Q372.2,142 380.5,142 L403.3,142 Q411.6,142 411.6,150.3 L411.6,226 Z" fill="url(#blueV)"/>
<clipPath id="btclip"><path d="M372.2,226 L372.2,150.3 Q372.2,142 380.5,142 L403.3,142 Q411.6,142 411.6,150.3 L411.6,226 Z"/></clipPath>
<g clip-path="url(#btclip)">
<rect x="382.4" y="141" width="18.4" height="85" fill="url(#blueBand)"/>
<rect x="372" y="141" width="40" height="16" fill="url(#blueTop)"/>
<rect x="372" y="212.5" width="40" height="14" fill="url(#blueBot)"/>
<path d="M376,226 L376,153 Q376,145.5 383,145.5 L400.6,145.5 Q407.6,145.5 407.6,153 L407.6,226" fill="none" stroke="#8ed4f7" stroke-width="1.3" opacity="0.8"/>
</g>
<path d="M372.2,226 L372.2,150.3 Q372.2,142 380.5,142 L403.3,142 Q411.6,142 411.6,150.3 L411.6,226 Z" fill="none" stroke="#26466a" stroke-width="1.8"/>
<line x1="382.4" y1="141.5" x2="382.4" y2="226" stroke="#1d3655" stroke-width="1.2"/>
<line x1="400.7" y1="141.5" x2="400.7" y2="226" stroke="#1d3655" stroke-width="1.2"/>
<line x1="372.5" y1="177.7" x2="411" y2="177.7" stroke="#1d3655" stroke-width="1.2"/>
<line x1="372.5" y1="212.2" x2="411" y2="212.2" stroke="#1d3655" stroke-width="1.2"/>
<rect x="376" y="241" width="6.5" height="17" rx="3" fill="#d9dcd2"/><rect x="401" y="241" width="6.5" height="17" rx="3" fill="#d9dcd2"/>
<rect x="376.2" y="245" width="6" height="2" fill="#b9bcae"/><rect x="401.2" y="245" width="6" height="2" fill="#b9bcae"/>
<rect x="376.5" y="251" width="6" height="2" fill="#b9bcae"/><rect x="401.2" y="251" width="6" height="2" fill="#b9bcae"/>
<rect x="375" y="261.5" width="7.5" height="18" rx="2.5" fill="#1b1d1b"/><rect x="401" y="261.5" width="7.5" height="18" rx="2.5" fill="#1b1d1b"/>
<rect x="382" y="234" width="19.3" height="52" fill="#68b4ee" stroke="#1f3b5c" stroke-width="1.3"/>
<path d="M371,337.3 L371,284 L373.8,281 L409,281 L410.4,284 L410.4,337.3 Z" fill="url(#blueB)" stroke="#1f3b5c" stroke-width="1.3"/>
<path d="M382,283.6 L377.9,292.6 L405.4,292.6 L401.3,283.6" fill="none" stroke="#1f3b5c" stroke-width="1"/>
<line x1="371.5" y1="300.8" x2="410" y2="300.8" stroke="#1f3b5c" stroke-width="1"/>
<line x1="377.9" y1="292.6" x2="377.9" y2="337" stroke="#1f3b5c" stroke-width="1"/>
<line x1="405.4" y1="292.6" x2="405.4" y2="337" stroke="#1f3b5c" stroke-width="1"/>
<path d="M380.6,337 L380.6,327 A10.35,9 0 0 1 401.3,327 L401.3,337 Z" fill="#161816"/>
<rect x="387.5" y="307.7" width="7.5" height="30" fill="#d3d6c7" stroke="#3a3d35" stroke-width="0.6"/>
<rect x="368.8" y="316.7" width="2.8" height="11" rx="1" fill="#c9ccbd" stroke="#50534a" stroke-width="0.6"/>
<rect x="410.8" y="316.7" width="2.8" height="11" rx="1" fill="#c9ccbd" stroke="#50534a" stroke-width="0.6"/>
<path d="M347.6,224 C347.6,219.5 349.8,216.8 352.8,216.5 Q391.4,233 430,216.5 C433,216.8 435.2,219.5 435.2,224 C435.2,228 434.2,230.2 432.7,230.6 Q391.4,249 350.1,230.6 C348.6,230.2 347.6,228 347.6,224 Z" fill="#d6d9cb" stroke="#262923" stroke-width="1.5"/>
<path d="M348.3,221.5 Q391.4,238.5 434.5,221.5" fill="none" stroke="#33362e" stroke-width="0.9"/>
<path d="M348.3,226.5 Q391.4,244 434.5,226.5" fill="none" stroke="#33362e" stroke-width="0.9"/>
<path d="M350,219 Q391.4,235.5 433,219" fill="none" stroke="#eef0e8" stroke-width="1.3" opacity="0.8"/>
<line x1="357.0" y1="218.20" x2="357.0" y2="224.59" stroke="#33362e" stroke-width="0.8"/>
<line x1="371.5" y1="222.56" x2="371.5" y2="228.19" stroke="#33362e" stroke-width="0.8"/>
<line x1="385.5" y1="224.56" x2="385.5" y2="229.84" stroke="#33362e" stroke-width="0.8"/>
<line x1="398.0" y1="224.51" x2="398.0" y2="229.80" stroke="#33362e" stroke-width="0.8"/>
<line x1="411.5" y1="222.51" x2="411.5" y2="228.15" stroke="#33362e" stroke-width="0.8"/>
<line x1="426.0" y1="218.12" x2="426.0" y2="224.52" stroke="#33362e" stroke-width="0.8"/>
<line x1="363.5" y1="226.44" x2="363.5" y2="231.58" stroke="#33362e" stroke-width="0.8"/>
<line x1="378.0" y1="229.18" x2="378.0" y2="234.40" stroke="#33362e" stroke-width="0.8"/>
<line x1="392.0" y1="230.00" x2="392.0" y2="235.25" stroke="#33362e" stroke-width="0.8"/>
<line x1="405.0" y1="229.15" x2="405.0" y2="234.38" stroke="#33362e" stroke-width="0.8"/>
<line x1="419.5" y1="226.39" x2="419.5" y2="231.53" stroke="#33362e" stroke-width="0.8"/>
<line x1="358.0" y1="230.00" x2="358.0" y2="233.78" stroke="#33362e" stroke-width="0.8"/>
<line x1="371.5" y1="233.38" x2="371.5" y2="237.66" stroke="#33362e" stroke-width="0.8"/>
<line x1="385.5" y1="235.09" x2="385.5" y2="239.61" stroke="#33362e" stroke-width="0.8"/>
<line x1="398.0" y1="235.04" x2="398.0" y2="239.57" stroke="#33362e" stroke-width="0.8"/>
<line x1="411.5" y1="233.35" x2="411.5" y2="237.62" stroke="#33362e" stroke-width="0.8"/>
<line x1="425.0" y1="229.93" x2="425.0" y2="233.71" stroke="#33362e" stroke-width="0.8"/>
<path d="M359.5,155.8 L355,155.8 Q351.3,155.8 351.3,160 L351.3,177 Q351.3,181 355,181 L359.5,181 Z" fill="url(#earG)" stroke="#4a4d44" stroke-width="0.8"/><rect x="351.3" y="158.5" width="1.8" height="20" fill="#6f726a"/><path d="M359.5,155.8 L371,155.8 L371,190 L367,190 Q360,186 359.5,180 Z" fill="url(#earG)" stroke="#2b2e27" stroke-width="1.2"/><path d="M359.5,170.4 L371,170.4 L371,190 L367,190 Q360,186 359.5,180 Z" fill="#cdd0bd"/><line x1="359.5" y1="170.4" x2="371" y2="170.4" stroke="#2b2e27" stroke-width="1"/>
<g transform="translate(782.8,0) scale(-1,1)"><path d="M359.5,155.8 L355,155.8 Q351.3,155.8 351.3,160 L351.3,177 Q351.3,181 355,181 L359.5,181 Z" fill="url(#earG)" stroke="#4a4d44" stroke-width="0.8"/><rect x="351.3" y="158.5" width="1.8" height="20" fill="#6f726a"/><path d="M359.5,155.8 L371,155.8 L371,190 L367,190 Q360,186 359.5,180 Z" fill="url(#earG)" stroke="#2b2e27" stroke-width="1.2"/><path d="M359.5,170.4 L371,170.4 L371,190 L367,190 Q360,186 359.5,180 Z" fill="#cdd0bd"/><line x1="359.5" y1="170.4" x2="371" y2="170.4" stroke="#2b2e27" stroke-width="1"/></g>
<path d="M344.5,344.5 C347,339 350,337.2 356,337 L426.8,337 C432.8,337.2 435.8,339 438.3,344.5 C442.8,352 446.4,360 446.4,370 C446.4,380 440.4,388 430.3,392.5 C418.4,398 404.4,401.5 391.4,401.5 C378.4,401.5 364.4,398 352.5,392.5 C342.4,388 336.4,380 336.4,370 C336.4,360 340,352 344.5,344.5 Z" fill="url(#domeG)" stroke="#2b2e27" stroke-width="1.3"/>
<path d="M391.4,337 L391.4,401.5" stroke="#2b2e27" stroke-width="1"/>
<path d="M356.5,337.5 Q358,356 364,367 L353.5,388.5" fill="none" stroke="#2b2e27" stroke-width="1"/>
<path d="M426.3,337.5 Q424.8,356 418.8,367 L429.3,388.5" fill="none" stroke="#2b2e27" stroke-width="1"/>
<path d="M364,367 Q391.4,373 418.8,367" fill="none" stroke="#2b2e27" stroke-width="1"/>
<g transform="translate(357.3,389.5) rotate(28)"><rect x="-5" y="-1.6" width="10" height="3.2" fill="#e3e5da" stroke="#2b2e27" stroke-width="0.8"/></g>
<g transform="translate(425.5,389.5) rotate(-28)"><rect x="-5" y="-1.6" width="10" height="3.2" fill="#e3e5da" stroke="#2b2e27" stroke-width="0.8"/></g>
<line x1="76" y1="515.2" x2="706" y2="517.6" stroke="#161616" stroke-width="1.5"/>
<path d="M58.8,515.9 L77.2,511 L77.2,519.8 Z" fill="#0e0e0e"/>
<path d="M725,519 L704,513 L704,522.3 Z" fill="#0e0e0e"/>
<circle cx="52.8" cy="515.6" r="3" fill="#eef2f0" fill-opacity="0.8" stroke="#8d918a" stroke-width="0.8"/>
<circle cx="728" cy="518.3" r="3" fill="#eef2f0" fill-opacity="0.8" stroke="#8d918a" stroke-width="0.8"/>
<rect x="55" y="520" width="8.8" height="15.6" fill="#dfe6e4" opacity="0.35"/>
<rect x="729" y="522.5" width="8.5" height="15.5" fill="#dfe6e4" opacity="0.35"/>
<text x="58.9" y="529.6" font-family="Liberation Sans, sans-serif" font-size="8.4" fill="#666a68" text-anchor="middle">1</text>
<text x="733.2" y="532.3" font-family="Liberation Sans, sans-serif" font-size="9.2" fill="#666a68" text-anchor="middle">2</text>
<path d="M 356.15 499.65 L 365.31 499.65 Q 367.25 499.65 367.25 501.59 L 367.25 502.11 Q 367.25 504.05 365.31 504.05 L 358.09 504.05 Q 356.15 504.05 356.15 505.99 L 356.15 508.45 L 367.25 508.45" fill="none" stroke="#111" stroke-width="2.30" stroke-linejoin="round" stroke-linecap="square"/>
<path d="M 382.45 499.65 L 373.09 499.65 Q 371.15 499.65 371.15 501.59 L 371.15 506.51 Q 371.15 508.45 373.09 508.45 L 380.51 508.45 Q 382.45 508.45 382.45 506.51 L 382.45 505.99 Q 382.45 504.05 380.51 504.05 L 371.15 504.05" fill="none" stroke="#111" stroke-width="2.30" stroke-linejoin="round" stroke-linecap="square"/>
<path d="M 387.79 499.65 L 394.21 499.65 Q 396.15 499.65 396.15 501.59 L 396.15 506.51 Q 396.15 508.45 394.21 508.45 L 387.79 508.45 Q 385.85 508.45 385.85 506.51 L 385.85 501.59 Q 385.85 499.65 387.79 499.65 Z M 387.39 507.57 L 394.61 500.53" fill="none" stroke="#111" stroke-width="2.30" stroke-linejoin="round" stroke-linecap="square"/>
<path d="M 400.55 508.45 L 400.55 501.15 L 409.91 501.15 Q 411.85 501.15 411.85 503.09 L 411.85 508.45 M 406.20 501.15 L 406.20 508.45" fill="none" stroke="#111" stroke-width="2.30" stroke-linejoin="round" stroke-linecap="square"/>
<path d="M 416.25 508.45 L 416.25 501.15 L 425.31 501.15 Q 427.25 501.15 427.25 503.09 L 427.25 508.45 M 421.75 501.15 L 421.75 508.45" fill="none" stroke="#111" stroke-width="2.30" stroke-linejoin="round" stroke-linecap="square"/>
<clipPath id="cl1"><rect x="158.00" y="583.4" width="18.00" height="15.8"/><rect x="180.40" y="583.4" width="13.60" height="15.8"/><rect x="197.60" y="583.4" width="15.00" height="15.8"/><rect x="216.10" y="583.4" width="15.40" height="15.8"/><rect x="236.00" y="583.4" width="15.00" height="15.8"/><rect x="255.10" y="583.4" width="15.10" height="15.8"/><rect x="273.70" y="583.4" width="13.30" height="15.8"/><rect x="291.10" y="583.4" width="17.60" height="15.8"/><rect x="310.40" y="583.4" width="13.90" height="15.8"/><rect x="329.00" y="583.4" width="15.00" height="15.8"/><rect x="347.00" y="583.4" width="14.50" height="15.8"/><rect x="372.30" y="583.4" width="13.90" height="15.8"/><rect x="387.10" y="583.4" width="17.30" height="15.8"/><rect x="407.40" y="583.4" width="15.00" height="15.8"/><rect x="427.10" y="583.4" width="17.80" height="15.8"/><rect x="448.20" y="583.4" width="14.50" height="15.8"/><rect x="466.20" y="583.4" width="14.00" height="15.8"/><rect x="484.80" y="583.4" width="14.40" height="15.8"/></clipPath>
<g clip-path="url(#cl1)">
<path d="M 159.95 597.45 L 159.95 585.15 L 167.00 593.76 L 174.05 585.15 L 174.05 597.45" fill="none" stroke="#0d0d0d" stroke-width="3.50" stroke-linejoin="round" stroke-linecap="square"/>
<path d="M 192.05 585.15 L 185.06 585.15 Q 182.35 585.15 182.35 587.86 L 182.35 594.74 Q 182.35 597.45 185.06 597.45 L 192.05 597.45 M 182.35 591.30 L 191.86 591.30" fill="none" stroke="#0d0d0d" stroke-width="3.50" stroke-linejoin="round" stroke-linecap="square"/>
<path d="M 199.55 597.45 L 199.55 588.67 Q 199.55 585.15 203.07 585.15 L 209.30 585.15 Q 210.65 585.15 210.65 586.50 L 210.65 597.45 M 199.55 592.28 L 210.65 592.28" fill="none" stroke="#0d0d0d" stroke-width="3.50" stroke-linejoin="round" stroke-linecap="square"/>
<path d="M 229.55 585.15 L 220.76 585.15 Q 218.05 585.15 218.05 587.86 L 218.05 588.59 Q 218.05 591.30 220.76 591.30 L 226.84 591.30 Q 229.55 591.30 229.55 594.01 L 229.55 594.74 Q 229.55 597.45 226.84 597.45 L 218.05 597.45" fill="none" stroke="#0d0d0d" stroke-width="3.50" stroke-linejoin="round" stroke-linecap="square"/>
<path d="M 237.95 585.15 L 237.95 594.74 Q 237.95 597.45 240.66 597.45 L 246.34 597.45 Q 249.05 597.45 249.05 594.74 L 249.05 585.15" fill="none" stroke="#0d0d0d" stroke-width="3.50" stroke-linejoin="round" stroke-linecap="square"/>
<path d="M 257.05 597.45 L 257.05 585.15 L 265.54 585.15 Q 268.25 585.15 268.25 587.86 L 268.25 589.09 Q 268.25 591.80 265.54 591.80 L 257.05 591.80 M 263.21 591.80 L 268.25 597.45" fill="none" stroke="#0d0d0d" stroke-width="3.50" stroke-linejoin="round" stroke-linecap="square"/>
<path d="M 285.05 585.15 L 278.36 585.15 Q 275.65 585.15 275.65 587.86 L 275.65 594.74 Q 275.65 597.45 278.36 597.45 L 285.05 597.45 M 275.65 591.30 L 284.86 591.30" fill="none" stroke="#0d0d0d" stroke-width="3.50" stroke-linejoin="round" stroke-linecap="square"/>
<path d="M 293.05 597.45 L 293.05 585.15 L 299.90 593.76 L 306.75 585.15 L 306.75 597.45" fill="none" stroke="#0d0d0d" stroke-width="3.50" stroke-linejoin="round" stroke-linecap="square"/>
<path d="M 322.35 585.15 L 315.06 585.15 Q 312.35 585.15 312.35 587.86 L 312.35 594.74 Q 312.35 597.45 315.06 597.45 L 322.35 597.45 M 312.35 591.30 L 322.15 591.30" fill="none" stroke="#0d0d0d" stroke-width="3.50" stroke-linejoin="round" stroke-linecap="square"/>
<path d="M 330.95 597.45 L 330.95 585.15 L 342.05 597.45 L 342.05 585.15" fill="none" stroke="#0d0d0d" stroke-width="3.50" stroke-linejoin="round" stroke-linecap="square"/>
<path d="M 348.95 585.15 L 359.55 585.15 M 354.25 585.15 L 354.25 597.45" fill="none" stroke="#0d0d0d" stroke-width="3.50" stroke-linejoin="round" stroke-linecap="square"/>
<path d="M 384.25 585.15 L 376.96 585.15 Q 374.25 585.15 374.25 587.86 L 374.25 594.74 Q 374.25 597.45 376.96 597.45 L 384.25 597.45 M 374.25 591.30 L 384.05 591.30" fill="none" stroke="#0d0d0d" stroke-width="3.50" stroke-linejoin="round" stroke-linecap="square"/>
<path d="M 389.05 585.15 L 402.45 597.45 M 402.45 585.15 L 389.05 597.45" fill="none" stroke="#0d0d0d" stroke-width="3.50" stroke-linejoin="round" stroke-linecap="square"/>
<path d="M 409.35 597.45 L 409.35 588.67 Q 409.35 585.15 412.87 585.15 L 419.10 585.15 Q 420.45 585.15 420.45 586.50 L 420.45 597.45 M 409.35 592.28 L 420.45 592.28" fill="none" stroke="#0d0d0d" stroke-width="3.50" stroke-linejoin="round" stroke-linecap="square"/>
<path d="M 429.05 597.45 L 429.05 585.15 L 436.00 593.76 L 442.95 585.15 L 442.95 597.45" fill="none" stroke="#0d0d0d" stroke-width="3.50" stroke-linejoin="round" stroke-linecap="square"/>
<path d="M 450.15 597.45 L 450.15 585.15 L 458.04 585.15 Q 460.75 585.15 460.75 587.86 L 460.75 589.39 Q 460.75 592.10 458.04 592.10 L 450.15 592.10" fill="none" stroke="#0d0d0d" stroke-width="3.50" stroke-linejoin="round" stroke-linecap="square"/>
<path d="M 468.15 585.15 L 468.15 594.74 Q 468.15 597.45 470.86 597.45 L 478.25 597.45" fill="none" stroke="#0d0d0d" stroke-width="3.50" stroke-linejoin="round" stroke-linecap="square"/>
<path d="M 497.25 585.15 L 489.46 585.15 Q 486.75 585.15 486.75 587.86 L 486.75 594.74 Q 486.75 597.45 489.46 597.45 L 497.25 597.45 M 486.75 591.30 L 497.04 591.30" fill="none" stroke="#0d0d0d" stroke-width="3.50" stroke-linejoin="round" stroke-linecap="square"/>
</g>
<clipPath id="cl2"><rect x="157.10" y="609.5" width="16.70" height="15.8"/><rect x="173.90" y="609.5" width="25.70" height="15.8"/><rect x="202.10" y="609.5" width="17.20" height="15.8"/><rect x="221.20" y="609.5" width="7.70" height="15.8"/><rect x="232.60" y="609.5" width="16.20" height="15.8"/><rect x="250.10" y="609.5" width="17.20" height="15.8"/><rect x="268.60" y="609.5" width="16.70" height="15.8"/><rect x="287.80" y="609.5" width="16.70" height="15.8"/><rect x="306.60" y="609.5" width="15.00" height="15.8"/><rect x="332.40" y="609.5" width="16.80" height="15.8"/><rect x="352.10" y="609.5" width="16.70" height="15.8"/><rect x="371.20" y="609.5" width="15.00" height="15.8"/><rect x="387.70" y="609.5" width="17.30" height="15.8"/><rect x="409.60" y="609.5" width="14.50" height="15.8"/><rect x="427.10" y="609.5" width="16.10" height="15.8"/><rect x="445.60" y="609.5" width="15.60" height="15.8"/><rect x="470.50" y="609.5" width="26.30" height="15.8"/><rect x="498.10" y="609.5" width="2.40" height="15.8"/><rect x="502.00" y="609.5" width="16.70" height="15.8"/><rect x="520.60" y="609.5" width="16.60" height="15.8"/><rect x="547.10" y="609.5" width="5.30" height="15.8"/><rect x="554.40" y="609.5" width="20.10" height="15.8"/><rect x="576.90" y="609.5" width="6.10" height="15.8"/><rect x="593.20" y="609.5" width="16.20" height="15.8"/><rect x="612.70" y="609.5" width="15.60" height="15.8"/><rect x="631.80" y="609.5" width="15.70" height="15.8"/><rect x="651.00" y="609.5" width="14.50" height="15.8"/></clipPath>
<g clip-path="url(#cl2)">
<path d="M 158.35 610.55 L 172.55 610.55 M 165.45 610.55 L 165.45 624.25" fill="none" stroke="#111" stroke-width="2.10" stroke-linejoin="round" stroke-linecap="square"/>
<path d="M 175.15 610.55 L 180.95 624.25 L 186.75 611.23 L 192.55 624.25 L 198.35 610.55" fill="none" stroke="#111" stroke-width="2.10" stroke-linejoin="round" stroke-linecap="square"/>
<path d="M 206.36 610.55 L 215.04 610.55 Q 218.05 610.55 218.05 613.56 L 218.05 621.24 Q 218.05 624.25 215.04 624.25 L 206.36 624.25 Q 203.35 624.25 203.35 621.24 L 203.35 613.56 Q 203.35 610.55 206.36 610.55 Z" fill="none" stroke="#111" stroke-width="2.10" stroke-linejoin="round" stroke-linecap="square"/>
<path d="M 222.45 617.40 L 227.65 617.40" fill="none" stroke="#111" stroke-width="2.10" stroke-linejoin="round" stroke-linecap="square"/>
<path d="M 247.55 610.55 L 236.86 610.55 Q 233.85 610.55 233.85 613.56 L 233.85 614.39 Q 233.85 617.40 236.86 617.40 L 244.54 617.40 Q 247.55 617.40 247.55 620.41 L 247.55 621.24 Q 247.55 624.25 244.54 624.25 L 233.85 624.25" fill="none" stroke="#111" stroke-width="2.10" stroke-linejoin="round" stroke-linecap="square"/>
<path d="M 251.35 610.55 L 266.05 610.55 M 258.70 610.55 L 258.70 624.25" fill="none" stroke="#111" stroke-width="2.10" stroke-linejoin="round" stroke-linecap="square"/>
<path d="M 269.85 624.25 L 269.85 610.55 L 281.04 610.55 Q 284.05 610.55 284.05 613.56 L 284.05 614.89 Q 284.05 617.90 281.04 617.90 L 269.85 617.90 M 277.66 617.90 L 284.05 624.25" fill="none" stroke="#111" stroke-width="2.10" stroke-linejoin="round" stroke-linecap="square"/>
<path d="M 289.05 624.25 L 289.05 614.47 Q 289.05 610.55 292.97 610.55 L 301.74 610.55 Q 303.25 610.55 303.25 612.06 L 303.25 624.25 M 289.05 618.50 L 303.25 618.50" fill="none" stroke="#111" stroke-width="2.10" stroke-linejoin="round" stroke-linecap="square"/>
<path d="M 307.85 624.25 L 307.85 610.55 L 317.34 610.55 Q 320.35 610.55 320.35 613.56 L 320.35 615.19 Q 320.35 618.20 317.34 618.20 L 307.85 618.20" fill="none" stroke="#111" stroke-width="2.10" stroke-linejoin="round" stroke-linecap="square"/>
<path d="M 333.65 610.55 L 333.65 624.25 M 347.95 610.55 L 347.95 624.25 M 333.65 617.40 L 347.95 617.40" fill="none" stroke="#111" stroke-width="2.10" stroke-linejoin="round" stroke-linecap="square"/>
<path d="M 353.35 624.25 L 353.35 614.47 Q 353.35 610.55 357.27 610.55 L 366.04 610.55 Q 367.55 610.55 367.55 612.06 L 367.55 624.25 M 353.35 618.50 L 367.55 618.50" fill="none" stroke="#111" stroke-width="2.10" stroke-linejoin="round" stroke-linecap="square"/>
<path d="M 372.45 624.25 L 372.45 610.55 L 381.94 610.55 Q 384.95 610.55 384.95 613.56 L 384.95 614.89 Q 384.95 617.90 381.94 617.90 L 372.45 617.90 M 379.32 617.90 L 384.95 624.25" fill="none" stroke="#111" stroke-width="2.10" stroke-linejoin="round" stroke-linecap="square"/>
<path d="M 388.95 624.25 L 388.95 610.55 L 403.75 624.25 L 403.75 610.55" fill="none" stroke="#111" stroke-width="2.10" stroke-linejoin="round" stroke-linecap="square"/>
<path d="M 422.85 610.55 L 413.86 610.55 Q 410.85 610.55 410.85 613.56 L 410.85 621.24 Q 410.85 624.25 413.86 624.25 L 422.85 624.25 M 410.85 617.40 L 422.61 617.40" fill="none" stroke="#111" stroke-width="2.10" stroke-linejoin="round" stroke-linecap="square"/>
<path d="M 441.95 610.55 L 431.36 610.55 Q 428.35 610.55 428.35 613.56 L 428.35 614.39 Q 428.35 617.40 431.36 617.40 L 438.94 617.40 Q 441.95 617.40 441.95 620.41 L 441.95 621.24 Q 441.95 624.25 438.94 624.25 L 428.35 624.25" fill="none" stroke="#111" stroke-width="2.10" stroke-linejoin="round" stroke-linecap="square"/>
<path d="M 459.95 610.55 L 449.86 610.55 Q 446.85 610.55 446.85 613.56 L 446.85 614.39 Q 446.85 617.40 449.86 617.40 L 456.94 617.40 Q 459.95 617.40 459.95 620.41 L 459.95 621.24 Q 459.95 624.25 456.94 624.25 L 446.85 624.25" fill="none" stroke="#111" stroke-width="2.10" stroke-linejoin="round" stroke-linecap="square"/>
<path d="M 471.75 610.55 L 477.70 624.25 L 483.65 611.23 L 489.60 624.25 L 495.55 610.55" fill="none" stroke="#111" stroke-width="2.10" stroke-linejoin="round" stroke-linecap="square"/>
<path d="M 499.30 610.55 L 499.30 624.25" fill="none" stroke="#111" stroke-width="2.10" stroke-linejoin="round" stroke-linecap="square"/>
<path d="M 503.25 610.55 L 517.45 610.55 M 510.35 610.55 L 510.35 624.25" fill="none" stroke="#111" stroke-width="2.10" stroke-linejoin="round" stroke-linecap="square"/>
<path d="M 521.85 610.55 L 521.85 624.25 M 535.95 610.55 L 535.95 624.25 M 521.85 617.40 L 535.95 617.40" fill="none" stroke="#111" stroke-width="2.10" stroke-linejoin="round" stroke-linecap="square"/>
<path d="M 548.92 610.60 L 548.10 612.80 M 551.40 610.60 L 550.58 612.80" fill="none" stroke="#111" stroke-width="1.60" stroke-linejoin="round" stroke-linecap="square"/>
<path d="M 555.65 624.25 L 555.65 610.55 L 564.45 620.14 L 573.25 610.55 L 573.25 624.25" fill="none" stroke="#111" stroke-width="2.10" stroke-linejoin="round" stroke-linecap="square"/>
<path d="M 578.92 610.60 L 577.90 612.80 M 582.00 610.60 L 580.98 612.80" fill="none" stroke="#111" stroke-width="1.60" stroke-linejoin="round" stroke-linecap="square"/>
<path d="M 594.45 610.55 L 594.45 624.25 M 608.15 610.55 L 608.15 624.25 M 594.45 617.40 L 608.15 617.40" fill="none" stroke="#111" stroke-width="2.10" stroke-linejoin="round" stroke-linecap="square"/>
<path d="M 616.96 610.55 L 624.04 610.55 Q 627.05 610.55 627.05 613.56 L 627.05 621.24 Q 627.05 624.25 624.04 624.25 L 616.96 624.25 Q 613.95 624.25 613.95 621.24 L 613.95 613.56 Q 613.95 610.55 616.96 610.55 Z" fill="none" stroke="#111" stroke-width="2.10" stroke-linejoin="round" stroke-linecap="square"/>
<path d="M 636.06 610.55 L 643.24 610.55 Q 646.25 610.55 646.25 613.56 L 646.25 621.24 Q 646.25 624.25 643.24 624.25 L 636.06 624.25 Q 633.05 624.25 633.05 621.24 L 633.05 613.56 Q 633.05 610.55 636.06 610.55 Z" fill="none" stroke="#111" stroke-width="2.10" stroke-linejoin="round" stroke-linecap="square"/>
<path d="M 652.25 610.55 L 652.25 624.25 M 664.25 610.55 L 654.65 617.40 L 664.25 624.25 M 652.25 617.40 L 654.65 617.40" fill="none" stroke="#111" stroke-width="2.10" stroke-linejoin="round" stroke-linecap="square"/>
</g>
<circle cx="116.0" cy="39.0" r="0.7" fill="#6d7472" opacity="0.8"/>
<circle cx="209.0" cy="60.5" r="0.7" fill="#6d7472" opacity="0.8"/>
<circle cx="368.0" cy="62.0" r="0.7" fill="#6d7472" opacity="0.8"/>
<circle cx="386.5" cy="58.0" r="0.7" fill="#6d7472" opacity="0.8"/>
<circle cx="708.0" cy="36.8" r="0.7" fill="#6d7472" opacity="0.8"/>
<circle cx="725.0" cy="42.5" r="0.7" fill="#6d7472" opacity="0.8"/>
<circle cx="190.0" cy="752.5" r="0.7" fill="#6d7472" opacity="0.8"/>
<circle cx="302.5" cy="764.5" r="0.7" fill="#6d7472" opacity="0.8"/>
<circle cx="322.5" cy="767.5" r="0.7" fill="#6d7472" opacity="0.8"/>
<circle cx="345.0" cy="749.5" r="0.7" fill="#6d7472" opacity="0.8"/>
<circle cx="364.5" cy="752.0" r="0.7" fill="#6d7472" opacity="0.8"/>
<circle cx="347.5" cy="768.5" r="0.7" fill="#6d7472" opacity="0.8"/>
<circle cx="372.0" cy="768.5" r="0.7" fill="#6d7472" opacity="0.8"/>
<circle cx="433.0" cy="752.0" r="0.7" fill="#6d7472" opacity="0.8"/>
<circle cx="532.5" cy="771.5" r="0.7" fill="#6d7472" opacity="0.8"/>
<circle cx="755.0" cy="738.0" r="0.7" fill="#6d7472" opacity="0.8"/>
<circle cx="794.5" cy="770.0" r="0.7" fill="#6d7472" opacity="0.8"/>
<circle cx="801" cy="692" r="19" fill="#dfe5e3" opacity="0.5"/>
<circle cx="801" cy="691.5" r="17" fill="#ffffff"/>
<circle cx="801" cy="691.5" r="7.5" fill="url(#btnG)"/>
</svg></body></html>
